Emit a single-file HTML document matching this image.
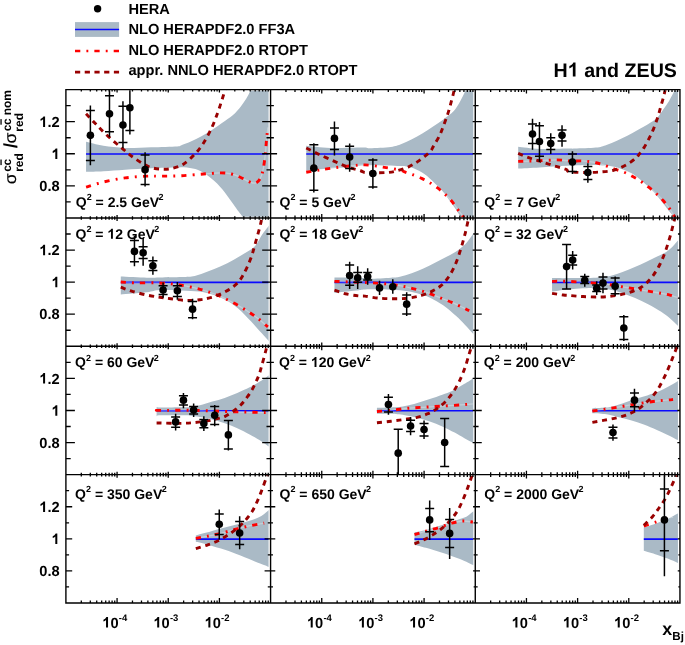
<!DOCTYPE html>
<html><head><meta charset="utf-8"><title>H1 and ZEUS</title>
<style>html,body{margin:0;padding:0;background:#fff}body{width:685px;height:645px;overflow:hidden;font-family:"Liberation Sans",sans-serif}</style></head>
<body>
<svg width="685" height="645" viewBox="0 0 685 645" style="display:block" font-family="'Liberation Sans', sans-serif" font-weight="bold" fill="#000" text-rendering="geometricPrecision">
<rect width="685" height="645" fill="#fff"/>
<g opacity="0.999">
<defs>
<clipPath id="c00"><rect x="66.50" y="90.20" width="203.48" height="127.15"/></clipPath>
<clipPath id="b00"><rect x="66.50" y="90.70" width="202.08" height="126.15"/></clipPath>
<clipPath id="c01"><rect x="271.18" y="90.20" width="203.48" height="127.15"/></clipPath>
<clipPath id="b01"><rect x="271.18" y="90.70" width="202.08" height="126.15"/></clipPath>
<clipPath id="c02"><rect x="475.87" y="90.20" width="203.48" height="127.15"/></clipPath>
<clipPath id="b02"><rect x="475.87" y="90.70" width="202.08" height="126.15"/></clipPath>
<clipPath id="c10"><rect x="66.50" y="218.55" width="203.48" height="127.15"/></clipPath>
<clipPath id="b10"><rect x="66.50" y="219.05" width="202.08" height="126.15"/></clipPath>
<clipPath id="c11"><rect x="271.18" y="218.55" width="203.48" height="127.15"/></clipPath>
<clipPath id="b11"><rect x="271.18" y="219.05" width="202.08" height="126.15"/></clipPath>
<clipPath id="c12"><rect x="475.87" y="218.55" width="203.48" height="127.15"/></clipPath>
<clipPath id="b12"><rect x="475.87" y="219.05" width="202.08" height="126.15"/></clipPath>
<clipPath id="c20"><rect x="66.50" y="346.90" width="203.48" height="127.15"/></clipPath>
<clipPath id="b20"><rect x="66.50" y="347.40" width="202.08" height="126.15"/></clipPath>
<clipPath id="c21"><rect x="271.18" y="346.90" width="203.48" height="127.15"/></clipPath>
<clipPath id="b21"><rect x="271.18" y="347.40" width="202.08" height="126.15"/></clipPath>
<clipPath id="c22"><rect x="475.87" y="346.90" width="203.48" height="127.15"/></clipPath>
<clipPath id="b22"><rect x="475.87" y="347.40" width="202.08" height="126.15"/></clipPath>
<clipPath id="c30"><rect x="66.50" y="475.25" width="203.48" height="127.15"/></clipPath>
<clipPath id="b30"><rect x="66.50" y="475.75" width="202.08" height="126.15"/></clipPath>
<clipPath id="c31"><rect x="271.18" y="475.25" width="203.48" height="127.15"/></clipPath>
<clipPath id="b31"><rect x="271.18" y="475.75" width="202.08" height="126.15"/></clipPath>
<clipPath id="c32"><rect x="475.87" y="475.25" width="203.48" height="127.15"/></clipPath>
<clipPath id="b32"><rect x="475.87" y="475.75" width="202.08" height="126.15"/></clipPath>
</defs>
<g clip-path="url(#b00)"><path d="M86.05 141.87 C88.94 142.52 96.90 144.76 103.41 145.78 C109.92 146.79 117.16 147.69 125.12 147.95 C133.08 148.20 142.48 147.55 151.17 147.30 C159.85 147.04 172.34 146.70 177.21 146.43 C182.09 146.16 178.14 146.48 180.40 145.67 C182.67 144.85 187.31 143.10 190.82 141.54 C194.33 139.99 197.95 138.25 201.46 136.33 C204.97 134.42 208.40 132.30 211.88 130.04 C215.35 127.78 218.82 125.23 222.30 122.77 C225.77 120.31 229.57 118.08 232.72 115.28 C235.86 112.48 238.72 109.08 241.18 105.95 C243.64 102.82 245.92 99.13 247.48 96.50 C249.03 93.88 249.75 91.95 250.51 90.21 C251.27 88.47 251.78 86.77 252.03 86.09 L252.03 49.60 L275.58 49.60 L275.58 257.95 L245.09 257.95 L245.09 220.66 C244.65 219.99 243.53 218.11 242.48 216.65 C241.43 215.18 240.31 213.93 238.79 211.87 C237.27 209.81 235.18 206.81 233.37 204.28 C231.56 201.74 229.75 199.12 227.94 196.68 C226.13 194.24 224.32 191.81 222.51 189.62 C220.70 187.43 218.90 185.35 217.09 183.55 C215.28 181.74 213.47 180.29 211.66 178.77 C209.85 177.25 208.04 175.70 206.23 174.43 C204.43 173.16 202.62 172.08 200.81 171.17 C199.00 170.27 197.19 169.55 195.38 169.00 C193.57 168.46 191.87 168.21 189.95 167.92 C188.04 167.63 186.00 167.34 183.88 167.27 C181.75 167.19 182.66 167.34 177.21 167.48 C171.76 167.63 159.85 167.77 151.17 168.13 C142.48 168.50 133.08 169.15 125.12 169.65 C117.16 170.16 109.92 170.81 103.41 171.17 C96.90 171.53 88.94 171.72 86.05 171.82 Z" fill="#aabac6"/></g>
<g clip-path="url(#c00)" fill="none">
<line x1="86.05" y1="154.02" x2="268.38" y2="154.02" stroke="#0a0aff" stroke-width="1.7"/>
<path d="M86.05 187.02 C88.94 186.19 96.90 183.55 103.41 182.03 C109.92 180.51 117.88 178.88 125.12 177.90 C132.35 176.93 140.65 176.46 146.82 176.17 C153.00 175.88 156.36 176.24 162.17 176.17 C167.98 176.09 174.83 176.09 181.71 175.73 C188.58 175.37 196.90 174.47 203.41 174.00 C209.92 173.52 216.07 172.91 220.78 172.91 C225.48 172.91 228.37 173.27 231.63 174.00 C234.89 174.72 237.42 175.98 240.31 177.25 C243.21 178.52 246.46 180.62 249.00 181.59 C251.53 182.57 253.63 183.65 255.51 183.11 C257.39 182.57 259.02 180.58 260.28 178.34 C261.55 176.09 262.27 173.63 263.10 169.65 C263.94 165.67 264.70 159.52 265.27 154.46 C265.85 149.39 266.14 143.79 266.58 139.27 C267.01 134.74 267.66 129.32 267.88 127.33" stroke="#fff" stroke-width="1.3" opacity="0.3"/>
<path d="M86.05 187.02 C88.94 186.19 96.90 183.55 103.41 182.03 C109.92 180.51 117.88 178.88 125.12 177.90 C132.35 176.93 140.65 176.46 146.82 176.17 C153.00 175.88 156.36 176.24 162.17 176.17 C167.98 176.09 174.83 176.09 181.71 175.73 C188.58 175.37 196.90 174.47 203.41 174.00 C209.92 173.52 216.07 172.91 220.78 172.91 C225.48 172.91 228.37 173.27 231.63 174.00 C234.89 174.72 237.42 175.98 240.31 177.25 C243.21 178.52 246.46 180.62 249.00 181.59 C251.53 182.57 253.63 183.65 255.51 183.11 C257.39 182.57 259.02 180.58 260.28 178.34 C261.55 176.09 262.27 173.63 263.10 169.65 C263.94 165.67 264.70 159.52 265.27 154.46 C265.85 149.39 266.14 143.79 266.58 139.27 C267.01 134.74 267.66 129.32 267.88 127.33" stroke="#ff0000" stroke-width="2.9" stroke-dasharray="5.2 6.1 1.9 6.1"/>
<path d="M86.05 113.87 C87.68 115.57 92.13 120.31 95.82 124.07 C99.51 127.83 103.67 132.28 108.19 136.44 C112.71 140.60 118.68 145.49 122.95 149.03 C127.22 152.58 130.11 155.07 133.80 157.72 C137.49 160.36 141.83 163.14 145.09 164.88 C148.34 166.61 150.15 167.41 153.34 168.13 C156.52 168.86 160.91 169.22 164.19 169.22 C167.47 169.22 169.81 168.97 173.02 168.13 C176.23 167.30 179.79 166.58 183.44 164.23 C187.10 161.88 191.62 157.53 194.95 154.03 C198.28 150.52 200.66 147.44 203.41 143.17 C206.16 138.90 209.09 133.40 211.44 128.41 C213.79 123.42 215.78 117.92 217.52 113.22 C219.26 108.51 220.67 103.88 221.86 100.19 C223.06 96.50 224.00 93.43 224.68 91.08 C225.37 88.73 225.77 86.92 225.99 86.09" stroke="#990000" stroke-width="2.9" stroke-dasharray="5.1 4.66"/>
<path d="M90.39 105.62V165.31 M85.89 110.40H94.89 M85.89 160.54H94.89" stroke="#000" stroke-width="1.5"/>
<circle cx="90.39" cy="135.36" r="3.8" fill="#000"/>
<path d="M109.49 80.66V137.09 M104.99 95.85H113.99 M104.99 131.67H113.99" stroke="#000" stroke-width="1.5"/>
<circle cx="109.49" cy="113.87" r="3.8" fill="#000"/>
<path d="M122.95 101.28V147.95 M118.45 106.27H127.45 M118.45 142.52H127.45" stroke="#000" stroke-width="1.5"/>
<circle cx="122.95" cy="124.94" r="3.8" fill="#000"/>
<path d="M129.89 76.32V134.49 M125.39 82.83H134.39 M125.39 130.58H134.39" stroke="#000" stroke-width="1.5"/>
<circle cx="129.89" cy="107.79" r="3.8" fill="#000"/>
<path d="M145.09 152.29V186.58 M140.59 154.89H149.59 M140.59 184.41H149.59" stroke="#000" stroke-width="1.5"/>
<circle cx="145.09" cy="169.65" r="3.8" fill="#000"/>
</g>
<g clip-path="url(#b01)"><path d="M306.24 145.78 C310.22 146.14 320.71 147.66 330.12 147.95 C339.52 148.24 356.03 147.48 362.68 147.51 C369.32 147.55 365.30 148.26 369.99 148.16 C374.68 148.07 385.58 147.66 390.83 146.97 C396.08 146.28 397.96 145.32 401.47 144.04 C404.98 142.76 408.41 141.00 411.89 139.27 C415.36 137.53 418.83 135.72 422.30 133.62 C425.78 131.52 429.21 129.05 432.72 126.68 C436.23 124.31 439.85 122.01 443.36 119.40 C446.87 116.80 450.99 114.01 453.78 111.05 C456.56 108.08 458.16 104.93 460.07 101.61 C461.99 98.28 464.12 93.66 465.28 91.08 C466.44 88.49 466.73 86.92 467.02 86.09 L467.02 49.60 L480.27 49.60 L480.27 257.95 L463.11 257.95 L463.11 220.66 C462.71 219.99 461.48 217.84 460.72 216.65 C459.96 215.45 459.64 215.11 458.55 213.50 C457.47 211.89 455.84 209.34 454.21 206.99 C452.58 204.64 450.59 201.85 448.79 199.39 C446.98 196.93 445.17 194.40 443.36 192.23 C441.55 190.06 439.74 188.25 437.93 186.37 C436.12 184.49 434.31 182.68 432.51 180.94 C430.70 179.20 428.89 177.41 427.08 175.95 C425.27 174.48 423.46 173.24 421.65 172.15 C419.84 171.06 418.04 170.23 416.23 169.44 C414.42 168.64 412.61 167.90 410.80 167.37 C408.99 166.85 407.18 166.51 405.37 166.29 C403.56 166.07 403.06 166.20 399.95 166.07 C396.84 165.95 392.53 165.66 386.71 165.53 C380.88 165.40 370.81 165.06 365.00 165.31 C359.19 165.57 357.64 166.51 351.82 167.05 C346.01 167.59 337.72 167.95 330.12 168.57 C322.52 169.18 310.22 170.38 306.24 170.74 Z" fill="#aabac6"/></g>
<g clip-path="url(#c01)" fill="none">
<line x1="306.24" y1="154.02" x2="473.07" y2="154.02" stroke="#0a0aff" stroke-width="1.7"/>
<path d="M306.24 172.26 C308.41 171.90 314.56 170.85 319.27 170.09 C323.97 169.33 329.03 168.42 334.46 167.70 C339.89 166.98 346.76 166.22 351.82 165.75 C356.89 165.28 359.76 164.66 364.85 164.88 C369.94 165.10 376.52 166.18 382.36 167.05 C388.21 167.92 396.11 169.24 399.95 170.09 C403.78 170.94 403.28 171.39 405.37 172.15 C407.47 172.91 409.82 173.62 412.54 174.65 C415.25 175.68 418.79 177.02 421.65 178.34 C424.51 179.66 426.97 180.92 429.68 182.57 C432.40 184.21 435.36 186.26 437.93 188.21 C440.50 190.17 442.82 192.16 445.10 194.29 C447.37 196.42 449.55 198.56 451.61 201.02 C453.67 203.48 455.66 206.61 457.47 209.05 C459.28 211.49 461.16 213.84 462.46 215.67 C463.76 217.50 464.81 219.29 465.28 220.01" stroke="#fff" stroke-width="1.3" opacity="0.3"/>
<path d="M306.24 172.26 C308.41 171.90 314.56 170.85 319.27 170.09 C323.97 169.33 329.03 168.42 334.46 167.70 C339.89 166.98 346.76 166.22 351.82 165.75 C356.89 165.28 359.76 164.66 364.85 164.88 C369.94 165.10 376.52 166.18 382.36 167.05 C388.21 167.92 396.11 169.24 399.95 170.09 C403.78 170.94 403.28 171.39 405.37 172.15 C407.47 172.91 409.82 173.62 412.54 174.65 C415.25 175.68 418.79 177.02 421.65 178.34 C424.51 179.66 426.97 180.92 429.68 182.57 C432.40 184.21 435.36 186.26 437.93 188.21 C440.50 190.17 442.82 192.16 445.10 194.29 C447.37 196.42 449.55 198.56 451.61 201.02 C453.67 203.48 455.66 206.61 457.47 209.05 C459.28 211.49 461.16 213.84 462.46 215.67 C463.76 217.50 464.81 219.29 465.28 220.01" stroke="#ff0000" stroke-width="2.9" stroke-dasharray="5.2 6.1 1.9 6.1"/>
<path d="M306.24 147.95 C308.41 149.03 314.56 152.22 319.27 154.46 C323.97 156.70 329.76 159.31 334.46 161.41 C339.16 163.50 343.14 165.49 347.48 167.05 C351.82 168.60 357.59 169.83 360.51 170.74 C363.43 171.64 362.37 172.13 365.00 172.48 C367.63 172.82 372.31 172.82 376.29 172.80 C380.27 172.78 385.40 172.71 388.88 172.37 C392.35 172.02 393.83 171.66 397.13 170.74 C400.42 169.82 405.26 168.32 408.63 166.83 C411.99 165.35 414.67 163.56 417.31 161.84 C419.95 160.12 422.74 157.86 424.47 156.52 C426.21 155.18 426.65 154.80 427.73 153.81 C428.82 152.81 430.01 151.85 430.99 150.55 C431.96 149.25 432.14 148.53 433.59 145.99 C435.04 143.46 437.97 138.87 439.67 135.36 C441.37 131.85 442.45 128.48 443.79 124.94 C445.13 121.39 446.54 117.63 447.70 114.09 C448.86 110.54 449.78 107.14 450.74 103.67 C451.70 100.19 452.76 96.07 453.45 93.25 C454.14 90.43 454.63 87.82 454.86 86.74" stroke="#990000" stroke-width="2.9" stroke-dasharray="5.1 4.66"/>
<path d="M313.84 143.17V192.45 M309.34 144.69H318.34 M309.34 190.27H318.34" stroke="#000" stroke-width="1.5"/>
<circle cx="313.84" cy="168.13" r="3.8" fill="#000"/>
<path d="M334.46 121.47V155.54 M329.96 127.98H338.96 M329.96 149.47H338.96" stroke="#000" stroke-width="1.5"/>
<circle cx="334.46" cy="138.40" r="3.8" fill="#000"/>
<path d="M349.65 143.61V171.82 M345.15 146.21H354.15 M345.15 168.57H354.15" stroke="#000" stroke-width="1.5"/>
<circle cx="349.65" cy="157.06" r="3.8" fill="#000"/>
<path d="M372.88 158.37V188.76 M368.38 159.89H377.38 M368.38 187.02H377.38" stroke="#000" stroke-width="1.5"/>
<circle cx="372.88" cy="173.56" r="3.8" fill="#000"/>
</g>
<g clip-path="url(#b02)"><path d="M518.19 146.86 C521.73 147.22 531.21 148.74 539.46 149.03 C547.71 149.32 561.76 148.67 567.68 148.60 C573.60 148.53 570.30 148.76 574.99 148.60 C579.68 148.44 590.58 148.24 595.83 147.62 C601.08 147.01 602.96 146.07 606.47 144.91 C609.98 143.75 613.41 142.21 616.89 140.68 C620.36 139.14 623.83 137.47 627.30 135.68 C630.78 133.89 634.21 131.87 637.72 129.93 C641.23 128.00 645.21 126.01 648.36 124.07 C651.51 122.14 654.18 120.67 656.61 118.32 C659.03 115.97 660.80 112.91 662.90 109.96 C665.00 107.01 667.28 103.78 669.20 100.63 C671.11 97.48 673.14 93.50 674.41 91.08 C675.67 88.65 676.40 86.92 676.79 86.09 L676.79 49.60 L684.95 49.60 L684.95 257.95 L676.36 257.95 L676.36 220.66 C675.89 219.99 674.66 218.11 673.54 216.65 C672.42 215.18 671.19 213.84 669.63 211.87 C668.08 209.90 666.01 207.17 664.20 204.82 C662.40 202.47 660.59 199.93 658.78 197.76 C656.97 195.59 655.16 193.69 653.35 191.79 C651.54 189.89 649.73 188.09 647.92 186.37 C646.12 184.65 644.31 183.04 642.50 181.48 C640.69 179.93 638.88 178.39 637.07 177.03 C635.26 175.68 633.45 174.41 631.65 173.34 C629.84 172.28 628.03 171.41 626.22 170.63 C624.41 169.85 622.60 169.27 620.79 168.68 C618.98 168.08 617.17 167.48 615.37 167.05 C613.56 166.61 612.07 166.33 609.94 166.07 C607.80 165.82 605.60 165.69 602.56 165.53 C599.52 165.37 597.52 165.06 591.71 165.10 C585.89 165.13 576.39 165.35 567.68 165.75 C558.97 166.14 547.71 167.01 539.46 167.48 C531.21 167.95 521.73 168.39 518.19 168.57 Z" fill="#aabac6"/></g>
<g clip-path="url(#c02)" fill="none">
<line x1="518.19" y1="154.02" x2="677.75" y2="154.02" stroke="#0a0aff" stroke-width="1.7"/>
<path d="M518.19 161.41 C521.01 161.33 528.68 161.22 535.12 160.97 C541.56 160.72 551.01 159.89 556.82 159.89 C562.64 159.89 565.63 160.79 570.00 160.97 C574.37 161.15 578.68 160.68 583.02 160.97 C587.36 161.26 592.25 161.91 596.05 162.71 C599.85 163.50 602.78 164.70 605.82 165.75 C608.85 166.80 611.24 167.94 614.28 169.00 C617.32 170.07 620.97 170.88 624.05 172.15 C627.12 173.42 629.84 175.01 632.73 176.60 C635.62 178.19 638.70 179.89 641.41 181.70 C644.13 183.51 646.48 185.41 649.01 187.45 C651.54 189.50 654.26 191.79 656.61 193.96 C658.96 196.14 661.02 198.12 663.12 200.48 C665.22 202.83 667.39 205.54 669.20 208.07 C671.01 210.61 672.78 213.75 673.97 215.67 C675.17 217.59 675.96 218.93 676.36 219.58" stroke="#fff" stroke-width="1.3" opacity="0.3"/>
<path d="M518.19 161.41 C521.01 161.33 528.68 161.22 535.12 160.97 C541.56 160.72 551.01 159.89 556.82 159.89 C562.64 159.89 565.63 160.79 570.00 160.97 C574.37 161.15 578.68 160.68 583.02 160.97 C587.36 161.26 592.25 161.91 596.05 162.71 C599.85 163.50 602.78 164.70 605.82 165.75 C608.85 166.80 611.24 167.94 614.28 169.00 C617.32 170.07 620.97 170.88 624.05 172.15 C627.12 173.42 629.84 175.01 632.73 176.60 C635.62 178.19 638.70 179.89 641.41 181.70 C644.13 183.51 646.48 185.41 649.01 187.45 C651.54 189.50 654.26 191.79 656.61 193.96 C658.96 196.14 661.02 198.12 663.12 200.48 C665.22 202.83 667.39 205.54 669.20 208.07 C671.01 210.61 672.78 213.75 673.97 215.67 C675.17 217.59 675.96 218.93 676.36 219.58" stroke="#ff0000" stroke-width="2.9" stroke-dasharray="5.2 6.1 1.9 6.1"/>
<path d="M518.19 153.37 C519.92 154.10 525.06 156.45 528.61 157.72 C532.15 158.98 535.48 159.71 539.46 160.97 C543.44 162.24 548.14 163.94 552.48 165.31 C556.82 166.69 562.59 168.13 565.51 169.22 C568.43 170.30 566.36 171.28 570.00 171.82 C573.64 172.37 581.94 172.48 587.36 172.48 C592.79 172.48 598.33 172.15 602.56 171.82 C606.79 171.50 609.69 171.25 612.76 170.52 C615.84 169.80 618.22 168.75 621.01 167.48 C623.79 166.22 627.01 164.48 629.47 162.92 C631.93 161.37 634.11 159.65 635.77 158.15 C637.43 156.65 638.08 155.67 639.46 153.92 C640.83 152.16 642.39 150.24 644.02 147.62 C645.65 145.00 647.64 141.31 649.23 138.18 C650.82 135.05 652.16 132.32 653.57 128.85 C654.98 125.37 656.50 121.03 657.69 117.34 C658.89 113.65 659.68 110.40 660.73 106.71 C661.78 103.02 663.16 98.53 663.99 95.20 C664.82 91.87 665.43 88.15 665.72 86.74" stroke="#990000" stroke-width="2.9" stroke-dasharray="5.1 4.66"/>
<path d="M532.51 118.64V149.68 M528.01 124.07H537.01 M528.01 143.61H537.01" stroke="#000" stroke-width="1.5"/>
<circle cx="532.51" cy="134.06" r="3.8" fill="#000"/>
<path d="M539.46 121.90V162.06 M534.96 125.81H543.96 M534.96 156.20H543.96" stroke="#000" stroke-width="1.5"/>
<circle cx="539.46" cy="141.44" r="3.8" fill="#000"/>
<path d="M550.75 133.19V154.03 M546.25 137.75H555.25 M546.25 149.47H555.25" stroke="#000" stroke-width="1.5"/>
<circle cx="550.75" cy="143.61" r="3.8" fill="#000"/>
<path d="M562.03 125.16V146.86 M557.53 129.93H566.53 M557.53 141.00H566.53" stroke="#000" stroke-width="1.5"/>
<circle cx="562.03" cy="135.36" r="3.8" fill="#000"/>
<path d="M572.45 151.20V174.00 M567.95 154.03H576.95 M567.95 171.39H576.95" stroke="#000" stroke-width="1.5"/>
<circle cx="572.45" cy="162.06" r="3.8" fill="#000"/>
<path d="M587.86 163.14V182.68 M583.36 166.40H592.36 M583.36 179.42H592.36" stroke="#000" stroke-width="1.5"/>
<circle cx="587.86" cy="172.48" r="3.8" fill="#000"/>
</g>
<g clip-path="url(#b10)"><path d="M120.78 276.60 C125.12 276.78 140.29 277.54 146.82 277.68 C153.36 277.83 154.19 277.58 160.00 277.47 C165.81 277.36 175.92 277.29 181.71 277.03 C187.49 276.78 190.39 276.85 194.73 275.95 C199.07 275.04 203.41 273.23 207.75 271.61 C212.09 269.98 216.44 268.17 220.78 266.18 C225.12 264.19 229.46 262.02 233.80 259.67 C238.14 257.32 243.21 254.42 246.82 252.07 C250.44 249.72 252.97 248.45 255.51 245.56 C258.04 242.67 259.96 237.78 262.02 234.71 C264.08 231.63 266.43 229.10 267.88 227.11 C269.33 225.12 270.23 223.49 270.70 222.77 L270.70 343.24 C270.23 342.69 269.69 341.97 267.88 339.98 C266.07 337.99 262.63 334.37 259.85 331.30 C257.06 328.22 254.78 325.33 251.17 321.53 C247.55 317.73 242.48 312.12 238.14 308.51 C233.80 304.89 229.46 302.18 225.12 299.82 C220.78 297.47 216.44 295.77 212.09 294.40 C207.75 293.02 204.14 292.23 199.07 291.58 C194.01 290.92 188.22 290.74 181.71 290.49 C175.19 290.24 165.81 289.77 160.00 290.06 C154.19 290.35 153.36 291.50 146.82 292.23 C140.29 292.95 125.12 294.04 120.78 294.40 Z" fill="#aabac6"/></g>
<g clip-path="url(#c10)" fill="none">
<line x1="120.78" y1="282.38" x2="268.38" y2="282.38" stroke="#0a0aff" stroke-width="1.7"/>
<path d="M120.78 282.03 C123.31 282.17 129.82 282.75 135.97 282.89 C142.12 283.04 150.78 282.60 157.68 282.89 C164.58 283.18 171.19 283.80 177.36 284.63 C183.54 285.46 189.67 286.73 194.73 287.89 C199.79 289.04 203.41 290.13 207.75 291.58 C212.09 293.02 216.44 294.65 220.78 296.57 C225.12 298.49 229.46 300.73 233.80 303.08 C238.14 305.43 242.84 308.15 246.82 310.68 C250.80 313.21 254.17 315.56 257.68 318.27 C261.19 320.99 266.18 325.51 267.88 326.96" stroke="#fff" stroke-width="1.3" opacity="0.3"/>
<path d="M120.78 282.03 C123.31 282.17 129.82 282.75 135.97 282.89 C142.12 283.04 150.78 282.60 157.68 282.89 C164.58 283.18 171.19 283.80 177.36 284.63 C183.54 285.46 189.67 286.73 194.73 287.89 C199.79 289.04 203.41 290.13 207.75 291.58 C212.09 293.02 216.44 294.65 220.78 296.57 C225.12 298.49 229.46 300.73 233.80 303.08 C238.14 305.43 242.84 308.15 246.82 310.68 C250.80 313.21 254.17 315.56 257.68 318.27 C261.19 320.99 266.18 325.51 267.88 326.96" stroke="#ff0000" stroke-width="2.9" stroke-dasharray="5.2 6.1 1.9 6.1"/>
<path d="M120.78 287.23 C122.59 287.89 127.29 289.84 131.63 291.14 C135.97 292.44 142.12 294.04 146.82 295.05 C151.53 296.06 155.84 296.60 159.85 297.22 C163.85 297.83 166.49 298.20 170.85 298.74 C175.22 299.28 181.20 300.31 186.05 300.48 C190.90 300.64 196.18 300.11 199.94 299.72 C203.70 299.32 205.91 298.72 208.62 298.09 C211.33 297.45 213.58 296.91 216.22 295.92 C218.86 294.92 221.86 293.48 224.47 292.12 C227.07 290.76 229.50 289.50 231.85 287.78 C234.20 286.06 236.77 283.82 238.58 281.81 C240.38 279.80 241.29 278.15 242.70 275.73 C244.11 273.31 245.59 270.41 247.04 267.27 C248.49 264.12 250.15 260.32 251.38 256.85 C252.61 253.37 253.37 250.08 254.42 246.43 C255.47 242.77 256.63 238.76 257.68 234.92 C258.73 231.09 259.92 226.78 260.72 223.42 C261.51 220.05 262.16 216.18 262.45 214.74" stroke="#990000" stroke-width="2.9" stroke-dasharray="5.1 4.66"/>
<path d="M134.45 235.79V266.18 M129.95 240.57H138.95 M129.95 261.84H138.95" stroke="#000" stroke-width="1.5"/>
<circle cx="134.45" cy="251.42" r="3.8" fill="#000"/>
<path d="M143.13 237.96V265.75 M138.63 246.64H147.63 M138.63 258.58H147.63" stroke="#000" stroke-width="1.5"/>
<circle cx="143.13" cy="252.72" r="3.8" fill="#000"/>
<path d="M152.90 256.41V274.86 M148.40 260.75H157.40 M148.40 270.52H157.40" stroke="#000" stroke-width="1.5"/>
<circle cx="152.90" cy="265.75" r="3.8" fill="#000"/>
<path d="M163.10 282.46V297.65 M158.60 285.72H167.60 M158.60 294.40H167.60" stroke="#000" stroke-width="1.5"/>
<circle cx="163.10" cy="290.06" r="3.8" fill="#000"/>
<path d="M177.36 282.03V299.82 M172.86 285.72H181.86 M172.86 296.57H181.86" stroke="#000" stroke-width="1.5"/>
<circle cx="177.36" cy="290.71" r="3.8" fill="#000"/>
<path d="M192.56 298.74V319.36 M188.06 301.56H197.06 M188.06 317.84H197.06" stroke="#000" stroke-width="1.5"/>
<circle cx="192.56" cy="309.16" r="3.8" fill="#000"/>
</g>
<g clip-path="url(#b11)"><path d="M334.46 277.47 C339.16 277.54 356.76 277.68 362.68 277.90 C368.60 278.12 365.30 278.81 369.99 278.77 C374.68 278.73 385.84 278.03 390.83 277.68 C395.82 277.34 396.47 277.45 399.95 276.71 C403.42 275.97 407.76 274.59 411.67 273.23 C415.58 271.88 419.50 270.32 423.39 268.57 C427.28 266.81 431.13 264.66 435.00 262.71 C438.87 260.75 442.73 258.98 446.61 256.85 C450.50 254.71 455.21 252.03 458.34 249.90 C461.47 247.77 463.44 245.99 465.39 244.04 C467.34 242.09 468.79 239.84 470.06 238.18 C471.32 236.51 472.05 235.43 472.99 234.05 C473.93 232.68 475.25 230.62 475.70 229.93 L475.70 336.72 C475.23 336.18 474.69 335.46 472.88 333.47 C471.07 331.48 467.63 327.68 464.85 324.79 C462.06 321.89 459.78 319.36 456.17 316.10 C452.55 312.85 447.48 308.33 443.14 305.25 C438.80 302.18 434.46 299.64 430.12 297.65 C425.78 295.66 421.44 294.47 417.09 293.31 C412.75 292.15 409.14 291.36 404.07 290.71 C399.01 290.06 393.22 289.62 386.71 289.41 C380.19 289.19 370.09 289.22 365.00 289.41 C359.91 289.59 361.26 289.91 356.17 290.49 C351.08 291.07 338.08 292.48 334.46 292.88 Z" fill="#aabac6"/></g>
<g clip-path="url(#c11)" fill="none">
<line x1="334.46" y1="282.38" x2="473.07" y2="282.38" stroke="#0a0aff" stroke-width="1.7"/>
<path d="M334.46 281.37 C337.35 281.48 346.73 281.84 351.82 282.03 C356.91 282.21 359.91 282.21 365.00 282.46 C370.09 282.71 376.58 283.00 382.36 283.54 C388.15 284.09 394.67 284.88 399.73 285.72 C404.79 286.55 408.41 287.45 412.75 288.54 C417.09 289.62 421.44 290.78 425.78 292.23 C430.12 293.67 434.46 295.52 438.80 297.22 C443.14 298.92 447.84 300.73 451.82 302.43 C455.80 304.13 459.78 306.05 462.68 307.42 C465.57 308.80 468.10 310.13 469.19 310.68" stroke="#fff" stroke-width="1.3" opacity="0.3"/>
<path d="M334.46 281.37 C337.35 281.48 346.73 281.84 351.82 282.03 C356.91 282.21 359.91 282.21 365.00 282.46 C370.09 282.71 376.58 283.00 382.36 283.54 C388.15 284.09 394.67 284.88 399.73 285.72 C404.79 286.55 408.41 287.45 412.75 288.54 C417.09 289.62 421.44 290.78 425.78 292.23 C430.12 293.67 434.46 295.52 438.80 297.22 C443.14 298.92 447.84 300.73 451.82 302.43 C455.80 304.13 459.78 306.05 462.68 307.42 C465.57 308.80 468.10 310.13 469.19 310.68" stroke="#ff0000" stroke-width="2.9" stroke-dasharray="5.2 6.1 1.9 6.1"/>
<path d="M334.46 290.06 C336.27 290.67 341.33 292.77 345.31 293.75 C349.29 294.72 355.05 295.52 358.34 295.92 C361.62 296.32 361.72 295.77 365.00 296.13 C368.28 296.50 373.32 297.65 378.02 298.09 C382.73 298.52 388.15 298.74 393.22 298.74 C398.28 298.74 403.71 298.63 408.41 298.09 C413.12 297.55 417.46 296.64 421.44 295.48 C425.42 294.33 429.03 292.77 432.29 291.14 C435.54 289.51 438.26 288.07 440.97 285.72 C443.68 283.36 446.22 280.47 448.57 277.03 C450.92 273.60 453.09 269.62 455.08 265.09 C457.07 260.57 458.88 254.97 460.51 249.90 C462.13 244.84 463.58 239.59 464.85 234.71 C466.11 229.82 467.34 224.03 468.10 220.60 C468.86 217.16 469.19 215.17 469.41 214.09" stroke="#990000" stroke-width="2.9" stroke-dasharray="5.1 4.66"/>
<path d="M349.65 261.84V288.97 M345.15 265.09H354.15 M345.15 285.28H354.15" stroke="#000" stroke-width="1.5"/>
<circle cx="349.65" cy="275.51" r="3.8" fill="#000"/>
<path d="M357.69 266.18V288.97 M353.19 272.47H362.19 M353.19 282.24H362.19" stroke="#000" stroke-width="1.5"/>
<circle cx="357.69" cy="277.68" r="3.8" fill="#000"/>
<path d="M367.67 268.35V284.63 M363.17 272.47H372.17 M363.17 280.07H372.17" stroke="#000" stroke-width="1.5"/>
<circle cx="367.67" cy="276.60" r="3.8" fill="#000"/>
<path d="M379.54 280.72V295.05" stroke="#000" stroke-width="1.5"/>
<circle cx="379.54" cy="287.89" r="3.8" fill="#000"/>
<path d="M392.78 279.20V293.75" stroke="#000" stroke-width="1.5"/>
<circle cx="392.78" cy="286.80" r="3.8" fill="#000"/>
<path d="M406.68 292.23V316.10 M402.18 295.05H411.18 M402.18 313.93H411.18" stroke="#000" stroke-width="1.5"/>
<circle cx="406.68" cy="304.17" r="3.8" fill="#000"/>
</g>
<g clip-path="url(#b12)"><path d="M552.05 278.12 C555.02 278.12 562.52 278.19 569.85 278.12 C577.18 278.05 590.23 277.94 596.05 277.68 C601.86 277.43 602.07 276.96 604.73 276.60 C607.39 276.24 609.03 276.27 612.00 275.51 C614.97 274.75 618.82 273.40 622.53 272.04 C626.24 270.68 630.34 269.04 634.25 267.37 C638.16 265.71 642.06 263.90 645.97 262.06 C649.88 260.21 654.40 257.95 657.69 256.30 C660.98 254.66 663.23 253.83 665.72 252.18 C668.22 250.53 670.72 248.27 672.67 246.43 C674.62 244.58 676.11 242.63 677.45 241.11 C678.78 239.59 680.16 237.94 680.70 237.31 L680.70 328.69 C680.23 328.22 679.69 327.61 677.88 325.87 C676.07 324.14 672.63 320.63 669.85 318.27 C667.06 315.92 664.78 314.11 661.17 311.76 C657.55 309.41 652.48 306.44 648.14 304.17 C643.80 301.89 639.46 299.97 635.12 298.09 C630.78 296.21 626.44 294.33 622.09 292.88 C617.75 291.43 614.14 290.24 609.07 289.41 C604.01 288.57 598.61 287.89 591.71 287.89 C584.81 287.89 574.29 288.79 567.68 289.41 C561.07 290.02 554.65 291.21 552.05 291.58 Z" fill="#aabac6"/></g>
<g clip-path="url(#c12)" fill="none">
<line x1="552.05" y1="282.38" x2="677.75" y2="282.38" stroke="#0a0aff" stroke-width="1.7"/>
<path d="M552.05 281.37 C554.65 281.37 561.07 281.12 567.68 281.37 C574.29 281.63 584.81 282.35 591.71 282.89 C598.61 283.44 604.01 283.98 609.07 284.63 C614.14 285.28 617.75 286.08 622.09 286.80 C626.44 287.52 630.78 288.25 635.12 288.97 C639.46 289.69 643.80 290.42 648.14 291.14 C652.48 291.87 657.55 292.66 661.17 293.31 C664.78 293.96 667.06 294.33 669.85 295.05 C672.63 295.77 676.54 297.22 677.88 297.65" stroke="#fff" stroke-width="1.3" opacity="0.3"/>
<path d="M552.05 281.37 C554.65 281.37 561.07 281.12 567.68 281.37 C574.29 281.63 584.81 282.35 591.71 282.89 C598.61 283.44 604.01 283.98 609.07 284.63 C614.14 285.28 617.75 286.08 622.09 286.80 C626.44 287.52 630.78 288.25 635.12 288.97 C639.46 289.69 643.80 290.42 648.14 291.14 C652.48 291.87 657.55 292.66 661.17 293.31 C664.78 293.96 667.06 294.33 669.85 295.05 C672.63 295.77 676.54 297.22 677.88 297.65" stroke="#ff0000" stroke-width="2.9" stroke-dasharray="5.2 6.1 1.9 6.1"/>
<path d="M552.05 293.31 C553.93 293.60 560.34 294.69 563.34 295.05 C566.33 295.41 566.72 295.23 570.00 295.48 C573.28 295.74 577.96 296.32 583.02 296.57 C588.09 296.82 595.32 297.11 600.39 297.00 C605.45 296.89 609.07 296.53 613.41 295.92 C617.75 295.30 622.46 294.40 626.44 293.31 C630.42 292.23 634.03 291.03 637.29 289.41 C640.54 287.78 643.26 285.97 645.97 283.54 C648.68 281.12 651.22 278.12 653.57 274.86 C655.92 271.61 658.09 267.99 660.08 264.01 C662.07 260.03 663.81 255.69 665.51 250.99 C667.21 246.28 668.84 240.86 670.28 235.79 C671.73 230.73 673.28 224.21 674.19 220.60 C675.09 216.98 675.46 215.17 675.71 214.09" stroke="#990000" stroke-width="2.9" stroke-dasharray="5.1 4.66"/>
<path d="M566.59 244.04V289.41 M562.09 244.47H571.09 M562.09 288.97H571.09" stroke="#000" stroke-width="1.5"/>
<circle cx="566.59" cy="266.61" r="3.8" fill="#000"/>
<path d="M572.67 250.99V269.44 M568.17 255.33H577.17 M568.17 265.09H577.17" stroke="#000" stroke-width="1.5"/>
<circle cx="572.67" cy="260.10" r="3.8" fill="#000"/>
<path d="M584.76 273.78V286.80 M580.26 276.60H589.26 M580.26 283.54H589.26" stroke="#000" stroke-width="1.5"/>
<circle cx="584.76" cy="280.29" r="3.8" fill="#000"/>
<path d="M596.70 281.37V295.05 M592.20 285.06H601.20 M592.20 291.58H601.20" stroke="#000" stroke-width="1.5"/>
<circle cx="596.70" cy="288.32" r="3.8" fill="#000"/>
<path d="M602.99 272.69V293.31 M598.49 277.03H607.49 M598.49 288.97H607.49" stroke="#000" stroke-width="1.5"/>
<circle cx="602.99" cy="283.11" r="3.8" fill="#000"/>
<path d="M615.15 276.60V295.92 M610.65 278.12H619.65 M610.65 293.75H619.65" stroke="#000" stroke-width="1.5"/>
<circle cx="615.15" cy="286.15" r="3.8" fill="#000"/>
<path d="M623.83 315.02V341.07 M619.33 316.76H628.33 M619.33 339.55H628.33" stroke="#000" stroke-width="1.5"/>
<circle cx="623.83" cy="328.04" r="3.8" fill="#000"/>
</g>
<g clip-path="url(#b20)"><path d="M156.59 407.12 C157.16 407.19 155.81 407.52 160.00 407.55 C164.19 407.59 176.64 407.44 181.71 407.34 C186.77 407.23 187.35 407.24 190.39 406.90 C193.43 406.56 196.29 406.16 199.94 405.27 C203.59 404.39 208.19 402.81 212.31 401.58 C216.44 400.35 220.52 399.34 224.68 397.89 C228.84 396.45 233.11 394.66 237.27 392.90 C241.43 391.15 245.96 389.21 249.65 387.37 C253.34 385.52 256.41 383.69 259.41 381.83 C262.42 379.97 265.78 377.51 267.66 376.19 C269.54 374.87 270.19 374.29 270.70 373.91 L270.70 447.71 C270.19 447.37 269.54 446.91 267.66 445.65 C265.78 444.38 262.42 441.97 259.41 440.11 C256.41 438.25 253.34 436.44 249.65 434.47 C245.96 432.50 241.43 430.14 237.27 428.28 C233.11 426.42 228.84 424.74 224.68 423.29 C220.52 421.84 216.44 420.63 212.31 419.60 C208.19 418.57 203.59 417.74 199.94 417.10 C196.29 416.47 193.43 416.09 190.39 415.80 C187.35 415.51 186.77 415.44 181.71 415.37 C176.64 415.29 164.19 415.19 160.00 415.37 C155.81 415.55 157.16 416.27 156.59 416.45 Z" fill="#aabac6"/></g>
<g clip-path="url(#c20)" fill="none">
<line x1="156.59" y1="410.73" x2="268.38" y2="410.73" stroke="#0a0aff" stroke-width="1.7"/>
<path d="M156.59 410.37 C157.16 410.37 154.01 410.37 160.00 410.37 C165.99 410.37 181.71 410.19 192.56 410.37 C203.41 410.56 216.07 411.17 225.12 411.46 C234.16 411.75 240.06 411.93 246.82 412.11 C253.59 412.29 262.56 412.47 265.71 412.54" stroke="#fff" stroke-width="1.3" opacity="0.3"/>
<path d="M156.59 410.37 C157.16 410.37 154.01 410.37 160.00 410.37 C165.99 410.37 181.71 410.19 192.56 410.37 C203.41 410.56 216.07 411.17 225.12 411.46 C234.16 411.75 240.06 411.93 246.82 412.11 C253.59 412.29 262.56 412.47 265.71 412.54" stroke="#ff0000" stroke-width="2.9" stroke-dasharray="5.2 6.1 1.9 6.1"/>
<path d="M156.59 422.96 C157.16 422.96 156.54 422.89 160.00 422.96 C163.46 423.04 171.94 423.43 177.36 423.40 C182.79 423.36 187.57 423.16 192.56 422.75 C197.55 422.33 203.38 421.53 207.32 420.90 C211.26 420.27 213.32 419.67 216.22 418.95 C219.11 418.22 221.79 417.90 224.68 416.56 C227.58 415.22 230.87 412.89 233.58 410.92 C236.30 408.95 238.72 407.01 240.96 404.73 C243.21 402.45 245.20 399.72 247.04 397.24 C248.89 394.76 250.59 392.34 252.03 389.86 C253.48 387.38 254.57 384.85 255.72 382.37 C256.88 379.90 258.00 377.67 258.98 374.99 C259.96 372.32 260.50 370.18 261.58 366.31 C262.67 362.44 264.48 355.64 265.49 351.77 C266.50 347.90 267.30 344.53 267.66 343.09" stroke="#990000" stroke-width="2.9" stroke-dasharray="5.1 4.66"/>
<path d="M175.63 413.63V430.56 M171.13 416.89H180.13 M171.13 427.30H180.13" stroke="#000" stroke-width="1.5"/>
<circle cx="175.63" cy="421.88" r="3.8" fill="#000"/>
<path d="M183.44 393.01V408.20 M178.94 395.83H187.94 M178.94 404.95H187.94" stroke="#000" stroke-width="1.5"/>
<circle cx="183.44" cy="400.17" r="3.8" fill="#000"/>
<path d="M193.64 403.43V416.89 M189.14 406.47H198.14 M189.14 414.06H198.14" stroke="#000" stroke-width="1.5"/>
<circle cx="193.64" cy="409.94" r="3.8" fill="#000"/>
<path d="M203.85 416.23V431.00 M199.35 419.49H208.35 M199.35 427.74H208.35" stroke="#000" stroke-width="1.5"/>
<circle cx="203.85" cy="423.40" r="3.8" fill="#000"/>
<path d="M214.70 404.95V426.22 M210.20 406.47H219.20 M210.20 424.48H219.20" stroke="#000" stroke-width="1.5"/>
<circle cx="214.70" cy="415.37" r="3.8" fill="#000"/>
<path d="M228.37 419.71V450.53 M223.87 420.58H232.87 M223.87 449.01H232.87" stroke="#000" stroke-width="1.5"/>
<circle cx="228.37" cy="434.90" r="3.8" fill="#000"/>
</g>
<g clip-path="url(#b21)"><path d="M376.94 407.77 C379.29 407.73 387.61 407.66 391.05 407.55 C394.48 407.44 395.24 407.37 397.56 407.12 C399.87 406.87 401.65 406.74 404.94 406.03 C408.23 405.33 413.17 404.04 417.31 402.89 C421.45 401.73 425.63 400.44 429.79 399.09 C433.95 397.73 438.57 396.08 442.27 394.75 C445.98 393.41 448.97 392.50 452.04 391.06 C455.12 389.61 458.23 387.51 460.72 386.06 C463.22 384.62 465.03 383.60 467.02 382.37 C469.01 381.14 471.22 379.62 472.66 378.68 C474.11 377.74 475.19 377.06 475.70 376.73 L475.70 444.02 C475.19 443.78 474.54 443.58 472.66 442.61 C470.78 441.63 467.42 439.82 464.41 438.16 C461.41 436.49 458.34 434.58 454.65 432.62 C450.96 430.67 446.42 428.30 442.27 426.44 C438.13 424.57 433.95 422.89 429.79 421.44 C425.63 420.00 421.45 418.79 417.31 417.75 C413.17 416.72 408.23 415.84 404.94 415.26 C401.65 414.68 399.87 414.52 397.56 414.28 C395.24 414.05 394.48 413.96 391.05 413.85 C387.61 413.74 379.29 413.67 376.94 413.63 Z" fill="#aabac6"/></g>
<g clip-path="url(#c21)" fill="none">
<line x1="376.94" y1="410.73" x2="473.07" y2="410.73" stroke="#0a0aff" stroke-width="1.7"/>
<path d="M376.94 411.46 C379.29 411.28 385.80 410.92 391.05 410.37 C396.29 409.83 402.62 408.75 408.41 408.20 C414.20 407.66 419.99 407.48 425.78 407.12 C431.57 406.76 437.35 406.39 443.14 406.03 C448.93 405.67 455.55 405.31 460.51 404.95 C465.46 404.59 470.82 404.04 472.88 403.86" stroke="#fff" stroke-width="1.3" opacity="0.3"/>
<path d="M376.94 411.46 C379.29 411.28 385.80 410.92 391.05 410.37 C396.29 409.83 402.62 408.75 408.41 408.20 C414.20 407.66 419.99 407.48 425.78 407.12 C431.57 406.76 437.35 406.39 443.14 406.03 C448.93 405.67 455.55 405.31 460.51 404.95 C465.46 404.59 470.82 404.04 472.88 403.86" stroke="#ff0000" stroke-width="2.9" stroke-dasharray="5.2 6.1 1.9 6.1"/>
<path d="M376.94 422.75 C379.29 422.49 386.53 421.77 391.05 421.23 C395.57 420.68 399.73 420.14 404.07 419.49 C408.41 418.84 413.12 418.30 417.09 417.32 C421.07 416.34 424.69 415.04 427.95 413.63 C431.20 412.22 433.74 410.84 436.63 408.85 C439.52 406.87 442.60 404.44 445.31 401.69 C448.03 398.94 450.56 395.79 452.91 392.36 C455.26 388.92 457.43 385.12 459.42 381.07 C461.41 377.02 463.22 372.57 464.85 368.05 C466.48 363.53 468.10 357.48 469.19 353.94 C470.27 350.39 470.82 348.58 471.36 346.78 C471.90 344.97 472.26 343.70 472.45 343.09" stroke="#990000" stroke-width="2.9" stroke-dasharray="5.1 4.66"/>
<path d="M388.44 394.09V414.72 M383.94 397.35H392.94 M383.94 411.89H392.94" stroke="#000" stroke-width="1.5"/>
<circle cx="388.44" cy="404.51" r="3.8" fill="#000"/>
<path d="M398.21 429.26V485.26 M393.71 429.26H402.71 M393.71 483.09H402.71" stroke="#000" stroke-width="1.5"/>
<circle cx="398.21" cy="453.14" r="3.8" fill="#000"/>
<path d="M410.58 416.89V435.34 M406.08 420.14H415.08 M406.08 431.43H415.08" stroke="#000" stroke-width="1.5"/>
<circle cx="410.58" cy="426.00" r="3.8" fill="#000"/>
<path d="M424.04 420.58V439.03 M419.54 423.40H428.54 M419.54 435.99H428.54" stroke="#000" stroke-width="1.5"/>
<circle cx="424.04" cy="429.48" r="3.8" fill="#000"/>
<path d="M444.66 418.41V466.81 M440.16 418.62H449.16 M440.16 466.38H449.16" stroke="#000" stroke-width="1.5"/>
<circle cx="444.66" cy="442.50" r="3.8" fill="#000"/>
</g>
<g clip-path="url(#b22)"><path d="M592.36 408.20 C594.06 408.13 599.63 407.95 602.56 407.77 C605.49 407.59 606.65 407.84 609.94 407.12 C613.23 406.39 618.17 404.77 622.31 403.43 C626.45 402.09 630.63 400.43 634.79 399.09 C638.95 397.75 643.13 396.74 647.27 395.40 C651.42 394.06 655.96 392.61 659.65 391.06 C663.34 389.50 666.41 387.71 669.41 386.06 C672.42 384.42 675.78 382.30 677.66 381.18 C679.54 380.06 680.19 379.64 680.70 379.33 L680.70 441.63 C680.23 441.38 680.05 441.23 677.88 440.11 C675.71 438.99 671.19 436.60 667.68 434.90 C664.17 433.20 660.80 431.65 656.82 429.91 C652.84 428.17 648.14 426.11 643.80 424.48 C639.46 422.86 635.12 421.41 630.78 420.14 C626.44 418.88 622.09 417.90 617.75 416.89 C613.41 415.87 608.96 414.68 604.73 414.06 C600.50 413.45 594.42 413.34 592.36 413.20 Z" fill="#aabac6"/></g>
<g clip-path="url(#c22)" fill="none">
<line x1="592.36" y1="410.73" x2="677.75" y2="410.73" stroke="#0a0aff" stroke-width="1.7"/>
<path d="M592.36 411.03 C594.42 410.74 600.50 409.94 604.73 409.29 C608.96 408.64 613.41 407.84 617.75 407.12 C622.09 406.39 626.44 405.67 630.78 404.95 C635.12 404.22 639.46 403.43 643.80 402.78 C648.14 402.13 652.84 401.51 656.82 401.04 C660.80 400.57 664.96 400.21 667.68 399.96 C670.39 399.70 672.20 399.59 673.10 399.52" stroke="#fff" stroke-width="1.3" opacity="0.3"/>
<path d="M592.36 411.03 C594.42 410.74 600.50 409.94 604.73 409.29 C608.96 408.64 613.41 407.84 617.75 407.12 C622.09 406.39 626.44 405.67 630.78 404.95 C635.12 404.22 639.46 403.43 643.80 402.78 C648.14 402.13 652.84 401.51 656.82 401.04 C660.80 400.57 664.96 400.21 667.68 399.96 C670.39 399.70 672.20 399.59 673.10 399.52" stroke="#ff0000" stroke-width="2.9" stroke-dasharray="5.2 6.1 1.9 6.1"/>
<path d="M592.36 422.31 C594.42 421.95 600.50 420.94 604.73 420.14 C608.96 419.35 613.77 418.55 617.75 417.54 C621.73 416.52 625.35 415.37 628.61 414.06 C631.86 412.76 634.39 411.60 637.29 409.72 C640.18 407.84 643.26 405.20 645.97 402.78 C648.68 400.35 651.22 398.07 653.57 395.18 C655.92 392.29 657.91 389.21 660.08 385.41 C662.25 381.61 664.60 376.73 666.59 372.39 C668.58 368.05 670.39 363.34 672.02 359.36 C673.65 355.39 675.27 351.23 676.36 348.51 C677.45 345.80 678.17 343.99 678.53 343.09" stroke="#990000" stroke-width="2.9" stroke-dasharray="5.1 4.66"/>
<path d="M612.98 424.48V440.76 M608.48 427.30H617.48 M608.48 437.94H617.48" stroke="#000" stroke-width="1.5"/>
<circle cx="612.98" cy="432.51" r="3.8" fill="#000"/>
<path d="M634.47 388.67V411.46 M629.97 393.01H638.97 M629.97 406.68H638.97" stroke="#000" stroke-width="1.5"/>
<circle cx="634.47" cy="400.17" r="3.8" fill="#000"/>
</g>
<g clip-path="url(#b30)"><path d="M195.82 535.44 C197.44 535.01 201.39 534.01 205.58 532.84 C209.78 531.66 215.86 529.78 220.99 528.39 C226.13 527.00 231.23 525.89 236.41 524.48 C241.58 523.07 247.87 521.33 252.03 519.92 C256.19 518.51 258.80 517.45 261.37 516.02 C263.94 514.59 265.89 512.58 267.45 511.35 C269.00 510.12 270.16 509.09 270.70 508.64 L270.70 567.68 C270.16 567.46 269.00 566.97 267.45 566.38 C265.89 565.78 263.94 565.13 261.37 564.10 C258.80 563.06 256.19 561.87 252.03 560.19 C247.87 558.51 241.58 555.94 236.41 554.00 C231.23 552.07 226.13 550.26 220.99 548.58 C215.86 546.89 209.78 545.07 205.58 543.91 C201.39 542.75 197.44 542.01 195.82 541.63 Z" fill="#aabac6"/></g>
<g clip-path="url(#c30)" fill="none">
<line x1="195.82" y1="539.07" x2="268.38" y2="539.07" stroke="#0a0aff" stroke-width="1.7"/>
<path d="M195.82 538.37 C197.80 538.01 203.59 537.04 207.75 536.20 C211.91 535.37 216.44 534.47 220.78 533.38 C225.12 532.30 229.46 530.85 233.80 529.69 C238.14 528.53 242.84 527.34 246.82 526.44 C250.80 525.53 254.78 524.81 257.68 524.27 C260.57 523.72 263.10 523.36 264.19 523.18" stroke="#fff" stroke-width="1.3" opacity="0.3"/>
<path d="M195.82 538.37 C197.80 538.01 203.59 537.04 207.75 536.20 C211.91 535.37 216.44 534.47 220.78 533.38 C225.12 532.30 229.46 530.85 233.80 529.69 C238.14 528.53 242.84 527.34 246.82 526.44 C250.80 525.53 254.78 524.81 257.68 524.27 C260.57 523.72 263.10 523.36 264.19 523.18" stroke="#ff0000" stroke-width="2.9" stroke-dasharray="5.2 6.1 1.9 6.1"/>
<path d="M195.82 548.58 C197.80 547.96 203.95 546.22 207.75 544.89 C211.55 543.55 214.99 542.35 218.61 540.54 C222.22 538.74 226.20 536.20 229.46 534.03 C232.72 531.86 235.43 529.87 238.14 527.52 C240.86 525.17 243.39 522.64 245.74 519.92 C248.09 517.21 250.26 514.50 252.25 511.24 C254.24 507.99 255.98 504.19 257.68 500.39 C259.38 496.59 260.93 492.43 262.45 488.45 C263.97 484.47 265.74 479.41 266.79 476.51 C267.84 473.62 268.42 471.99 268.75 471.09" stroke="#990000" stroke-width="2.9" stroke-dasharray="5.1 4.66"/>
<path d="M219.26 509.51V539.46 M214.76 514.06H223.76 M214.76 534.47H223.76" stroke="#000" stroke-width="1.5"/>
<circle cx="219.26" cy="524.27" r="3.8" fill="#000"/>
<path d="M239.66 516.23V549.23 M235.16 521.44H244.16 M235.16 544.45H244.16" stroke="#000" stroke-width="1.5"/>
<circle cx="239.66" cy="532.95" r="3.8" fill="#000"/>
</g>
<g clip-path="url(#b31)"><path d="M414.49 532.30 C416.41 531.92 421.51 531.18 425.99 530.02 C430.48 528.86 436.23 527.03 441.41 525.35 C446.58 523.67 452.87 521.35 457.03 519.92 C461.19 518.50 463.80 518.08 466.37 516.78 C468.94 515.47 470.89 513.29 472.45 512.11 C474.00 510.93 475.16 510.12 475.70 509.72 L475.70 566.16 C475.16 565.94 474.00 565.60 472.45 564.86 C470.89 564.11 468.94 562.87 466.37 561.71 C463.80 560.55 461.19 559.45 457.03 557.91 C452.87 556.37 446.58 554.17 441.41 552.48 C436.23 550.80 430.48 549.12 425.99 547.82 C421.51 546.51 416.41 545.19 414.49 544.67 Z" fill="#aabac6"/></g>
<g clip-path="url(#c31)" fill="none">
<line x1="414.49" y1="539.07" x2="473.07" y2="539.07" stroke="#0a0aff" stroke-width="1.7"/>
<path d="M414.49 534.68 C416.37 534.11 421.73 532.41 425.78 531.21 C429.83 530.02 434.46 528.86 438.80 527.52 C443.14 526.18 447.84 524.27 451.82 523.18 C455.80 522.09 459.17 521.19 462.68 521.01 C466.19 520.83 471.18 521.91 472.88 522.09" stroke="#fff" stroke-width="1.3" opacity="0.3"/>
<path d="M414.49 534.68 C416.37 534.11 421.73 532.41 425.78 531.21 C429.83 530.02 434.46 528.86 438.80 527.52 C443.14 526.18 447.84 524.27 451.82 523.18 C455.80 522.09 459.17 521.19 462.68 521.01 C466.19 520.83 471.18 521.91 472.88 522.09" stroke="#ff0000" stroke-width="2.9" stroke-dasharray="5.2 6.1 1.9 6.1"/>
<path d="M414.49 543.80 C416.01 543.15 420.64 541.34 423.61 539.89 C426.57 538.45 429.39 536.93 432.29 535.12 C435.18 533.31 438.08 531.39 440.97 529.04 C443.87 526.69 446.94 523.98 449.65 521.01 C452.37 518.04 455.08 514.68 457.25 511.24 C459.42 507.80 460.98 504.19 462.68 500.39 C464.38 496.59 466.01 492.25 467.45 488.45 C468.90 484.65 470.35 480.49 471.36 477.60 C472.37 474.70 473.17 472.17 473.53 471.09" stroke="#990000" stroke-width="2.9" stroke-dasharray="5.1 4.66"/>
<path d="M429.68 500.39V539.89 M425.18 508.42H434.18 M425.18 531.86H434.18" stroke="#000" stroke-width="1.5"/>
<circle cx="429.68" cy="519.92" r="3.8" fill="#000"/>
<path d="M449.65 507.99V559.00 M445.15 519.49H454.15 M445.15 547.49H454.15" stroke="#000" stroke-width="1.5"/>
<circle cx="449.65" cy="533.38" r="3.8" fill="#000"/>
</g>
<g clip-path="url(#b32)"><path d="M643.80 527.52 C645.97 526.80 652.84 524.63 656.82 523.18 C660.80 521.73 664.17 520.47 667.68 518.84 C671.19 517.21 675.71 514.57 677.88 513.41 C680.05 512.25 680.23 512.15 680.70 511.89 L680.70 564.20 C680.23 563.99 680.05 563.84 677.88 562.90 C675.71 561.96 671.19 559.94 667.68 558.56 C664.17 557.19 660.80 555.96 656.82 554.65 C652.84 553.35 645.97 551.40 643.80 550.75 Z" fill="#aabac6"/></g>
<g clip-path="url(#c32)" fill="none">
<line x1="643.80" y1="539.07" x2="677.75" y2="539.07" stroke="#0a0aff" stroke-width="1.7"/>
<path d="M643.80 526.00 C645.97 525.28 652.84 522.96 656.82 521.66 C660.80 520.36 664.96 518.91 667.68 518.19 C670.39 517.46 672.20 517.46 673.10 517.32" stroke="#fff" stroke-width="1.3" opacity="0.3"/>
<path d="M643.80 526.00 C645.97 525.28 652.84 522.96 656.82 521.66 C660.80 520.36 664.96 518.91 667.68 518.19 C670.39 517.46 672.20 517.46 673.10 517.32" stroke="#ff0000" stroke-width="2.9" stroke-dasharray="5.2 6.1 1.9 6.1"/>
<path d="M643.80 525.35 C645.25 523.90 649.95 519.56 652.48 516.67 C655.02 513.77 656.82 511.06 659.00 507.99 C661.17 504.91 663.52 501.65 665.51 498.22 C667.50 494.78 669.12 491.16 670.93 487.36 C672.74 483.57 675.17 478.14 676.36 475.43 C677.55 472.71 677.81 471.81 678.10 471.09" stroke="#990000" stroke-width="2.9" stroke-dasharray="5.1 4.66"/>
<path d="M664.42 461.32V576.36 M659.92 489.10H668.92 M659.92 550.75H668.92" stroke="#000" stroke-width="1.5"/>
<circle cx="664.42" cy="519.92" r="3.8" fill="#000"/>
</g>
<path d="M65.90 201.91H70.70M266.48 201.91H270.58M65.90 185.86H74.90M262.18 185.86H270.58M65.90 169.82H70.70M266.48 169.82H270.58M65.90 153.77H74.90M262.18 153.77H270.58M65.90 137.73H70.70M266.48 137.73H270.58M65.90 121.69H74.90M262.18 121.69H270.58M65.90 105.64H70.70M266.48 105.64H270.58M81.30 89.60V91.40M81.30 216.15V217.95M90.31 89.60V91.40M90.31 216.15V217.95M96.71 89.60V91.40M96.71 216.15V217.95M101.67 89.60V91.40M101.67 216.15V217.95M105.72 89.60V91.40M105.72 216.15V217.95M109.14 89.60V91.40M109.14 216.15V217.95M112.11 89.60V91.40M112.11 216.15V217.95M114.73 89.60V91.40M114.73 216.15V217.95M117.07 89.60V92.60M117.07 214.95V217.95M132.47 89.60V91.40M132.47 216.15V217.95M141.48 89.60V91.40M141.48 216.15V217.95M147.88 89.60V91.40M147.88 216.15V217.95M152.84 89.60V91.40M152.84 216.15V217.95M156.89 89.60V91.40M156.89 216.15V217.95M160.31 89.60V91.40M160.31 216.15V217.95M163.28 89.60V91.40M163.28 216.15V217.95M165.90 89.60V91.40M165.90 216.15V217.95M168.24 89.60V92.60M168.24 214.95V217.95M183.64 89.60V91.40M183.64 216.15V217.95M192.65 89.60V91.40M192.65 216.15V217.95M199.05 89.60V91.40M199.05 216.15V217.95M204.01 89.60V91.40M204.01 216.15V217.95M208.06 89.60V91.40M208.06 216.15V217.95M211.48 89.60V91.40M211.48 216.15V217.95M214.45 89.60V91.40M214.45 216.15V217.95M217.07 89.60V91.40M217.07 216.15V217.95M219.41 89.60V92.60M219.41 214.95V217.95M234.81 89.60V91.40M234.81 216.15V217.95M243.82 89.60V91.40M243.82 216.15V217.95M250.22 89.60V91.40M250.22 216.15V217.95M255.18 89.60V91.40M255.18 216.15V217.95M259.23 89.60V91.40M259.23 216.15V217.95M262.65 89.60V91.40M262.65 216.15V217.95M265.62 89.60V91.40M265.62 216.15V217.95M268.24 89.60V91.40M268.24 216.15V217.95M270.58 201.91H273.88M473.26 201.91H475.26M270.58 185.86H277.08M472.66 185.86H475.26M270.58 169.82H273.88M473.26 169.82H475.26M270.58 153.77H277.08M472.66 153.77H475.26M270.58 137.73H273.88M473.26 137.73H475.26M270.58 121.69H277.08M472.66 121.69H475.26M270.58 105.64H273.88M473.26 105.64H475.26M285.98 89.60V92.00M285.98 215.55V217.95M294.99 89.60V92.00M294.99 215.55V217.95M301.39 89.60V92.00M301.39 215.55V217.95M306.35 89.60V92.00M306.35 215.55V217.95M310.40 89.60V92.00M310.40 215.55V217.95M313.82 89.60V92.00M313.82 215.55V217.95M316.79 89.60V92.00M316.79 215.55V217.95M319.41 89.60V92.00M319.41 215.55V217.95M321.75 89.60V93.50M321.75 214.05V217.95M337.15 89.60V92.00M337.15 215.55V217.95M346.16 89.60V92.00M346.16 215.55V217.95M352.56 89.60V92.00M352.56 215.55V217.95M357.52 89.60V92.00M357.52 215.55V217.95M361.57 89.60V92.00M361.57 215.55V217.95M364.99 89.60V92.00M364.99 215.55V217.95M367.96 89.60V92.00M367.96 215.55V217.95M370.58 89.60V92.00M370.58 215.55V217.95M372.92 89.60V93.50M372.92 214.05V217.95M388.32 89.60V92.00M388.32 215.55V217.95M397.33 89.60V92.00M397.33 215.55V217.95M403.73 89.60V92.00M403.73 215.55V217.95M408.69 89.60V92.00M408.69 215.55V217.95M412.74 89.60V92.00M412.74 215.55V217.95M416.16 89.60V92.00M416.16 215.55V217.95M419.13 89.60V92.00M419.13 215.55V217.95M421.75 89.60V92.00M421.75 215.55V217.95M424.09 89.60V93.50M424.09 214.05V217.95M439.49 89.60V92.00M439.49 215.55V217.95M448.50 89.60V92.00M448.50 215.55V217.95M454.90 89.60V92.00M454.90 215.55V217.95M459.86 89.60V92.00M459.86 215.55V217.95M463.91 89.60V92.00M463.91 215.55V217.95M467.33 89.60V92.00M467.33 215.55V217.95M470.30 89.60V92.00M470.30 215.55V217.95M472.92 89.60V92.00M472.92 215.55V217.95M475.27 201.91H478.57M677.95 201.91H679.95M475.27 185.86H481.77M677.35 185.86H679.95M475.27 169.82H478.57M677.95 169.82H679.95M475.27 153.77H481.77M677.35 153.77H679.95M475.27 137.73H478.57M677.95 137.73H679.95M475.27 121.69H481.77M677.35 121.69H679.95M475.27 105.64H478.57M677.95 105.64H679.95M490.67 89.60V92.00M490.67 215.55V217.95M499.68 89.60V92.00M499.68 215.55V217.95M506.08 89.60V92.00M506.08 215.55V217.95M511.04 89.60V92.00M511.04 215.55V217.95M515.09 89.60V92.00M515.09 215.55V217.95M518.51 89.60V92.00M518.51 215.55V217.95M521.48 89.60V92.00M521.48 215.55V217.95M524.10 89.60V92.00M524.10 215.55V217.95M526.44 89.60V93.50M526.44 214.05V217.95M541.84 89.60V92.00M541.84 215.55V217.95M550.85 89.60V92.00M550.85 215.55V217.95M557.25 89.60V92.00M557.25 215.55V217.95M562.21 89.60V92.00M562.21 215.55V217.95M566.26 89.60V92.00M566.26 215.55V217.95M569.68 89.60V92.00M569.68 215.55V217.95M572.65 89.60V92.00M572.65 215.55V217.95M575.27 89.60V92.00M575.27 215.55V217.95M577.61 89.60V93.50M577.61 214.05V217.95M593.01 89.60V92.00M593.01 215.55V217.95M602.02 89.60V92.00M602.02 215.55V217.95M608.42 89.60V92.00M608.42 215.55V217.95M613.38 89.60V92.00M613.38 215.55V217.95M617.43 89.60V92.00M617.43 215.55V217.95M620.85 89.60V92.00M620.85 215.55V217.95M623.82 89.60V92.00M623.82 215.55V217.95M626.44 89.60V92.00M626.44 215.55V217.95M628.78 89.60V93.50M628.78 214.05V217.95M644.18 89.60V92.00M644.18 215.55V217.95M653.19 89.60V92.00M653.19 215.55V217.95M659.59 89.60V92.00M659.59 215.55V217.95M664.55 89.60V92.00M664.55 215.55V217.95M668.60 89.60V92.00M668.60 215.55V217.95M672.02 89.60V92.00M672.02 215.55V217.95M674.99 89.60V92.00M674.99 215.55V217.95M677.61 89.60V92.00M677.61 215.55V217.95M65.90 330.26H70.70M266.48 330.26H270.58M65.90 314.21H74.90M262.18 314.21H270.58M65.90 298.17H70.70M266.48 298.17H270.58M65.90 282.12H74.90M262.18 282.12H270.58M65.90 266.08H70.70M266.48 266.08H270.58M65.90 250.04H74.90M262.18 250.04H270.58M65.90 233.99H70.70M266.48 233.99H270.58M81.30 217.95V219.75M81.30 344.50V346.30M90.31 217.95V219.75M90.31 344.50V346.30M96.71 217.95V219.75M96.71 344.50V346.30M101.67 217.95V219.75M101.67 344.50V346.30M105.72 217.95V219.75M105.72 344.50V346.30M109.14 217.95V219.75M109.14 344.50V346.30M112.11 217.95V219.75M112.11 344.50V346.30M114.73 217.95V219.75M114.73 344.50V346.30M117.07 217.95V220.95M117.07 343.30V346.30M132.47 217.95V219.75M132.47 344.50V346.30M141.48 217.95V219.75M141.48 344.50V346.30M147.88 217.95V219.75M147.88 344.50V346.30M152.84 217.95V219.75M152.84 344.50V346.30M156.89 217.95V219.75M156.89 344.50V346.30M160.31 217.95V219.75M160.31 344.50V346.30M163.28 217.95V219.75M163.28 344.50V346.30M165.90 217.95V219.75M165.90 344.50V346.30M168.24 217.95V220.95M168.24 343.30V346.30M183.64 217.95V219.75M183.64 344.50V346.30M192.65 217.95V219.75M192.65 344.50V346.30M199.05 217.95V219.75M199.05 344.50V346.30M204.01 217.95V219.75M204.01 344.50V346.30M208.06 217.95V219.75M208.06 344.50V346.30M211.48 217.95V219.75M211.48 344.50V346.30M214.45 217.95V219.75M214.45 344.50V346.30M217.07 217.95V219.75M217.07 344.50V346.30M219.41 217.95V220.95M219.41 343.30V346.30M234.81 217.95V219.75M234.81 344.50V346.30M243.82 217.95V219.75M243.82 344.50V346.30M250.22 217.95V219.75M250.22 344.50V346.30M255.18 217.95V219.75M255.18 344.50V346.30M259.23 217.95V219.75M259.23 344.50V346.30M262.65 217.95V219.75M262.65 344.50V346.30M265.62 217.95V219.75M265.62 344.50V346.30M268.24 217.95V219.75M268.24 344.50V346.30M270.58 330.26H273.88M473.26 330.26H475.26M270.58 314.21H277.08M472.66 314.21H475.26M270.58 298.17H273.88M473.26 298.17H475.26M270.58 282.12H277.08M472.66 282.12H475.26M270.58 266.08H273.88M473.26 266.08H475.26M270.58 250.04H277.08M472.66 250.04H475.26M270.58 233.99H273.88M473.26 233.99H475.26M285.98 217.95V220.35M285.98 343.90V346.30M294.99 217.95V220.35M294.99 343.90V346.30M301.39 217.95V220.35M301.39 343.90V346.30M306.35 217.95V220.35M306.35 343.90V346.30M310.40 217.95V220.35M310.40 343.90V346.30M313.82 217.95V220.35M313.82 343.90V346.30M316.79 217.95V220.35M316.79 343.90V346.30M319.41 217.95V220.35M319.41 343.90V346.30M321.75 217.95V221.85M321.75 342.40V346.30M337.15 217.95V220.35M337.15 343.90V346.30M346.16 217.95V220.35M346.16 343.90V346.30M352.56 217.95V220.35M352.56 343.90V346.30M357.52 217.95V220.35M357.52 343.90V346.30M361.57 217.95V220.35M361.57 343.90V346.30M364.99 217.95V220.35M364.99 343.90V346.30M367.96 217.95V220.35M367.96 343.90V346.30M370.58 217.95V220.35M370.58 343.90V346.30M372.92 217.95V221.85M372.92 342.40V346.30M388.32 217.95V220.35M388.32 343.90V346.30M397.33 217.95V220.35M397.33 343.90V346.30M403.73 217.95V220.35M403.73 343.90V346.30M408.69 217.95V220.35M408.69 343.90V346.30M412.74 217.95V220.35M412.74 343.90V346.30M416.16 217.95V220.35M416.16 343.90V346.30M419.13 217.95V220.35M419.13 343.90V346.30M421.75 217.95V220.35M421.75 343.90V346.30M424.09 217.95V221.85M424.09 342.40V346.30M439.49 217.95V220.35M439.49 343.90V346.30M448.50 217.95V220.35M448.50 343.90V346.30M454.90 217.95V220.35M454.90 343.90V346.30M459.86 217.95V220.35M459.86 343.90V346.30M463.91 217.95V220.35M463.91 343.90V346.30M467.33 217.95V220.35M467.33 343.90V346.30M470.30 217.95V220.35M470.30 343.90V346.30M472.92 217.95V220.35M472.92 343.90V346.30M475.27 330.26H478.57M677.95 330.26H679.95M475.27 314.21H481.77M677.35 314.21H679.95M475.27 298.17H478.57M677.95 298.17H679.95M475.27 282.12H481.77M677.35 282.12H679.95M475.27 266.08H478.57M677.95 266.08H679.95M475.27 250.04H481.77M677.35 250.04H679.95M475.27 233.99H478.57M677.95 233.99H679.95M490.67 217.95V220.35M490.67 343.90V346.30M499.68 217.95V220.35M499.68 343.90V346.30M506.08 217.95V220.35M506.08 343.90V346.30M511.04 217.95V220.35M511.04 343.90V346.30M515.09 217.95V220.35M515.09 343.90V346.30M518.51 217.95V220.35M518.51 343.90V346.30M521.48 217.95V220.35M521.48 343.90V346.30M524.10 217.95V220.35M524.10 343.90V346.30M526.44 217.95V221.85M526.44 342.40V346.30M541.84 217.95V220.35M541.84 343.90V346.30M550.85 217.95V220.35M550.85 343.90V346.30M557.25 217.95V220.35M557.25 343.90V346.30M562.21 217.95V220.35M562.21 343.90V346.30M566.26 217.95V220.35M566.26 343.90V346.30M569.68 217.95V220.35M569.68 343.90V346.30M572.65 217.95V220.35M572.65 343.90V346.30M575.27 217.95V220.35M575.27 343.90V346.30M577.61 217.95V221.85M577.61 342.40V346.30M593.01 217.95V220.35M593.01 343.90V346.30M602.02 217.95V220.35M602.02 343.90V346.30M608.42 217.95V220.35M608.42 343.90V346.30M613.38 217.95V220.35M613.38 343.90V346.30M617.43 217.95V220.35M617.43 343.90V346.30M620.85 217.95V220.35M620.85 343.90V346.30M623.82 217.95V220.35M623.82 343.90V346.30M626.44 217.95V220.35M626.44 343.90V346.30M628.78 217.95V221.85M628.78 342.40V346.30M644.18 217.95V220.35M644.18 343.90V346.30M653.19 217.95V220.35M653.19 343.90V346.30M659.59 217.95V220.35M659.59 343.90V346.30M664.55 217.95V220.35M664.55 343.90V346.30M668.60 217.95V220.35M668.60 343.90V346.30M672.02 217.95V220.35M672.02 343.90V346.30M674.99 217.95V220.35M674.99 343.90V346.30M677.61 217.95V220.35M677.61 343.90V346.30M65.90 458.61H70.70M266.48 458.61H270.58M65.90 442.56H74.90M262.18 442.56H270.58M65.90 426.52H70.70M266.48 426.52H270.58M65.90 410.48H74.90M262.18 410.48H270.58M65.90 394.43H70.70M266.48 394.43H270.58M65.90 378.39H74.90M262.18 378.39H270.58M65.90 362.34H70.70M266.48 362.34H270.58M81.30 346.30V348.10M81.30 472.85V474.65M90.31 346.30V348.10M90.31 472.85V474.65M96.71 346.30V348.10M96.71 472.85V474.65M101.67 346.30V348.10M101.67 472.85V474.65M105.72 346.30V348.10M105.72 472.85V474.65M109.14 346.30V348.10M109.14 472.85V474.65M112.11 346.30V348.10M112.11 472.85V474.65M114.73 346.30V348.10M114.73 472.85V474.65M117.07 346.30V349.30M117.07 471.65V474.65M132.47 346.30V348.10M132.47 472.85V474.65M141.48 346.30V348.10M141.48 472.85V474.65M147.88 346.30V348.10M147.88 472.85V474.65M152.84 346.30V348.10M152.84 472.85V474.65M156.89 346.30V348.10M156.89 472.85V474.65M160.31 346.30V348.10M160.31 472.85V474.65M163.28 346.30V348.10M163.28 472.85V474.65M165.90 346.30V348.10M165.90 472.85V474.65M168.24 346.30V349.30M168.24 471.65V474.65M183.64 346.30V348.10M183.64 472.85V474.65M192.65 346.30V348.10M192.65 472.85V474.65M199.05 346.30V348.10M199.05 472.85V474.65M204.01 346.30V348.10M204.01 472.85V474.65M208.06 346.30V348.10M208.06 472.85V474.65M211.48 346.30V348.10M211.48 472.85V474.65M214.45 346.30V348.10M214.45 472.85V474.65M217.07 346.30V348.10M217.07 472.85V474.65M219.41 346.30V349.30M219.41 471.65V474.65M234.81 346.30V348.10M234.81 472.85V474.65M243.82 346.30V348.10M243.82 472.85V474.65M250.22 346.30V348.10M250.22 472.85V474.65M255.18 346.30V348.10M255.18 472.85V474.65M259.23 346.30V348.10M259.23 472.85V474.65M262.65 346.30V348.10M262.65 472.85V474.65M265.62 346.30V348.10M265.62 472.85V474.65M268.24 346.30V348.10M268.24 472.85V474.65M270.58 458.61H273.88M473.26 458.61H475.26M270.58 442.56H277.08M472.66 442.56H475.26M270.58 426.52H273.88M473.26 426.52H475.26M270.58 410.48H277.08M472.66 410.48H475.26M270.58 394.43H273.88M473.26 394.43H475.26M270.58 378.39H277.08M472.66 378.39H475.26M270.58 362.34H273.88M473.26 362.34H475.26M285.98 346.30V348.70M285.98 472.25V474.65M294.99 346.30V348.70M294.99 472.25V474.65M301.39 346.30V348.70M301.39 472.25V474.65M306.35 346.30V348.70M306.35 472.25V474.65M310.40 346.30V348.70M310.40 472.25V474.65M313.82 346.30V348.70M313.82 472.25V474.65M316.79 346.30V348.70M316.79 472.25V474.65M319.41 346.30V348.70M319.41 472.25V474.65M321.75 346.30V350.20M321.75 470.75V474.65M337.15 346.30V348.70M337.15 472.25V474.65M346.16 346.30V348.70M346.16 472.25V474.65M352.56 346.30V348.70M352.56 472.25V474.65M357.52 346.30V348.70M357.52 472.25V474.65M361.57 346.30V348.70M361.57 472.25V474.65M364.99 346.30V348.70M364.99 472.25V474.65M367.96 346.30V348.70M367.96 472.25V474.65M370.58 346.30V348.70M370.58 472.25V474.65M372.92 346.30V350.20M372.92 470.75V474.65M388.32 346.30V348.70M388.32 472.25V474.65M397.33 346.30V348.70M397.33 472.25V474.65M403.73 346.30V348.70M403.73 472.25V474.65M408.69 346.30V348.70M408.69 472.25V474.65M412.74 346.30V348.70M412.74 472.25V474.65M416.16 346.30V348.70M416.16 472.25V474.65M419.13 346.30V348.70M419.13 472.25V474.65M421.75 346.30V348.70M421.75 472.25V474.65M424.09 346.30V350.20M424.09 470.75V474.65M439.49 346.30V348.70M439.49 472.25V474.65M448.50 346.30V348.70M448.50 472.25V474.65M454.90 346.30V348.70M454.90 472.25V474.65M459.86 346.30V348.70M459.86 472.25V474.65M463.91 346.30V348.70M463.91 472.25V474.65M467.33 346.30V348.70M467.33 472.25V474.65M470.30 346.30V348.70M470.30 472.25V474.65M472.92 346.30V348.70M472.92 472.25V474.65M475.27 458.61H478.57M677.95 458.61H679.95M475.27 442.56H481.77M677.35 442.56H679.95M475.27 426.52H478.57M677.95 426.52H679.95M475.27 410.48H481.77M677.35 410.48H679.95M475.27 394.43H478.57M677.95 394.43H679.95M475.27 378.39H481.77M677.35 378.39H679.95M475.27 362.34H478.57M677.95 362.34H679.95M490.67 346.30V348.70M490.67 472.25V474.65M499.68 346.30V348.70M499.68 472.25V474.65M506.08 346.30V348.70M506.08 472.25V474.65M511.04 346.30V348.70M511.04 472.25V474.65M515.09 346.30V348.70M515.09 472.25V474.65M518.51 346.30V348.70M518.51 472.25V474.65M521.48 346.30V348.70M521.48 472.25V474.65M524.10 346.30V348.70M524.10 472.25V474.65M526.44 346.30V350.20M526.44 470.75V474.65M541.84 346.30V348.70M541.84 472.25V474.65M550.85 346.30V348.70M550.85 472.25V474.65M557.25 346.30V348.70M557.25 472.25V474.65M562.21 346.30V348.70M562.21 472.25V474.65M566.26 346.30V348.70M566.26 472.25V474.65M569.68 346.30V348.70M569.68 472.25V474.65M572.65 346.30V348.70M572.65 472.25V474.65M575.27 346.30V348.70M575.27 472.25V474.65M577.61 346.30V350.20M577.61 470.75V474.65M593.01 346.30V348.70M593.01 472.25V474.65M602.02 346.30V348.70M602.02 472.25V474.65M608.42 346.30V348.70M608.42 472.25V474.65M613.38 346.30V348.70M613.38 472.25V474.65M617.43 346.30V348.70M617.43 472.25V474.65M620.85 346.30V348.70M620.85 472.25V474.65M623.82 346.30V348.70M623.82 472.25V474.65M626.44 346.30V348.70M626.44 472.25V474.65M628.78 346.30V350.20M628.78 470.75V474.65M644.18 346.30V348.70M644.18 472.25V474.65M653.19 346.30V348.70M653.19 472.25V474.65M659.59 346.30V348.70M659.59 472.25V474.65M664.55 346.30V348.70M664.55 472.25V474.65M668.60 346.30V348.70M668.60 472.25V474.65M672.02 346.30V348.70M672.02 472.25V474.65M674.99 346.30V348.70M674.99 472.25V474.65M677.61 346.30V348.70M677.61 472.25V474.65M65.90 586.96H69.10M267.78 586.96H270.58M65.90 570.91H72.20M264.58 570.91H270.58M65.90 554.87H69.10M267.78 554.87H270.58M65.90 538.82H72.20M264.58 538.82H270.58M65.90 522.78H69.10M267.78 522.78H270.58M65.90 506.74H72.20M264.58 506.74H270.58M65.90 490.69H69.10M267.78 490.69H270.58M81.30 474.65V476.45M81.30 600.60V603.00M90.31 474.65V476.45M90.31 600.60V603.00M96.71 474.65V476.45M96.71 600.60V603.00M101.67 474.65V476.45M101.67 600.60V603.00M105.72 474.65V476.45M105.72 600.60V603.00M109.14 474.65V476.45M109.14 600.60V603.00M112.11 474.65V476.45M112.11 600.60V603.00M114.73 474.65V476.45M114.73 600.60V603.00M117.07 474.65V477.65M117.07 598.10V603.00M132.47 474.65V476.45M132.47 600.60V603.00M141.48 474.65V476.45M141.48 600.60V603.00M147.88 474.65V476.45M147.88 600.60V603.00M152.84 474.65V476.45M152.84 600.60V603.00M156.89 474.65V476.45M156.89 600.60V603.00M160.31 474.65V476.45M160.31 600.60V603.00M163.28 474.65V476.45M163.28 600.60V603.00M165.90 474.65V476.45M165.90 600.60V603.00M168.24 474.65V477.65M168.24 598.10V603.00M183.64 474.65V476.45M183.64 600.60V603.00M192.65 474.65V476.45M192.65 600.60V603.00M199.05 474.65V476.45M199.05 600.60V603.00M204.01 474.65V476.45M204.01 600.60V603.00M208.06 474.65V476.45M208.06 600.60V603.00M211.48 474.65V476.45M211.48 600.60V603.00M214.45 474.65V476.45M214.45 600.60V603.00M217.07 474.65V476.45M217.07 600.60V603.00M219.41 474.65V477.65M219.41 598.10V603.00M234.81 474.65V476.45M234.81 600.60V603.00M243.82 474.65V476.45M243.82 600.60V603.00M250.22 474.65V476.45M250.22 600.60V603.00M255.18 474.65V476.45M255.18 600.60V603.00M259.23 474.65V476.45M259.23 600.60V603.00M262.65 474.65V476.45M262.65 600.60V603.00M265.62 474.65V476.45M265.62 600.60V603.00M268.24 474.65V476.45M268.24 600.60V603.00M270.58 586.96H272.98M473.66 586.96H475.26M270.58 570.91H275.28M473.06 570.91H475.26M270.58 554.87H272.98M473.66 554.87H475.26M270.58 538.82H275.28M473.06 538.82H475.26M270.58 522.78H272.98M473.66 522.78H475.26M270.58 506.74H275.28M473.06 506.74H475.26M270.58 490.69H272.98M473.66 490.69H475.26M285.98 474.65V477.05M285.98 600.60V603.00M294.99 474.65V477.05M294.99 600.60V603.00M301.39 474.65V477.05M301.39 600.60V603.00M306.35 474.65V477.05M306.35 600.60V603.00M310.40 474.65V477.05M310.40 600.60V603.00M313.82 474.65V477.05M313.82 600.60V603.00M316.79 474.65V477.05M316.79 600.60V603.00M319.41 474.65V477.05M319.41 600.60V603.00M321.75 474.65V478.55M321.75 598.10V603.00M337.15 474.65V477.05M337.15 600.60V603.00M346.16 474.65V477.05M346.16 600.60V603.00M352.56 474.65V477.05M352.56 600.60V603.00M357.52 474.65V477.05M357.52 600.60V603.00M361.57 474.65V477.05M361.57 600.60V603.00M364.99 474.65V477.05M364.99 600.60V603.00M367.96 474.65V477.05M367.96 600.60V603.00M370.58 474.65V477.05M370.58 600.60V603.00M372.92 474.65V478.55M372.92 598.10V603.00M388.32 474.65V477.05M388.32 600.60V603.00M397.33 474.65V477.05M397.33 600.60V603.00M403.73 474.65V477.05M403.73 600.60V603.00M408.69 474.65V477.05M408.69 600.60V603.00M412.74 474.65V477.05M412.74 600.60V603.00M416.16 474.65V477.05M416.16 600.60V603.00M419.13 474.65V477.05M419.13 600.60V603.00M421.75 474.65V477.05M421.75 600.60V603.00M424.09 474.65V478.55M424.09 598.10V603.00M439.49 474.65V477.05M439.49 600.60V603.00M448.50 474.65V477.05M448.50 600.60V603.00M454.90 474.65V477.05M454.90 600.60V603.00M459.86 474.65V477.05M459.86 600.60V603.00M463.91 474.65V477.05M463.91 600.60V603.00M467.33 474.65V477.05M467.33 600.60V603.00M470.30 474.65V477.05M470.30 600.60V603.00M472.92 474.65V477.05M472.92 600.60V603.00M475.27 586.96H477.67M678.35 586.96H679.95M475.27 570.91H479.97M677.75 570.91H679.95M475.27 554.87H477.67M678.35 554.87H679.95M475.27 538.82H479.97M677.75 538.82H679.95M475.27 522.78H477.67M678.35 522.78H679.95M475.27 506.74H479.97M677.75 506.74H679.95M475.27 490.69H477.67M678.35 490.69H679.95M490.67 474.65V477.05M490.67 600.60V603.00M499.68 474.65V477.05M499.68 600.60V603.00M506.08 474.65V477.05M506.08 600.60V603.00M511.04 474.65V477.05M511.04 600.60V603.00M515.09 474.65V477.05M515.09 600.60V603.00M518.51 474.65V477.05M518.51 600.60V603.00M521.48 474.65V477.05M521.48 600.60V603.00M524.10 474.65V477.05M524.10 600.60V603.00M526.44 474.65V478.55M526.44 598.10V603.00M541.84 474.65V477.05M541.84 600.60V603.00M550.85 474.65V477.05M550.85 600.60V603.00M557.25 474.65V477.05M557.25 600.60V603.00M562.21 474.65V477.05M562.21 600.60V603.00M566.26 474.65V477.05M566.26 600.60V603.00M569.68 474.65V477.05M569.68 600.60V603.00M572.65 474.65V477.05M572.65 600.60V603.00M575.27 474.65V477.05M575.27 600.60V603.00M577.61 474.65V478.55M577.61 598.10V603.00M593.01 474.65V477.05M593.01 600.60V603.00M602.02 474.65V477.05M602.02 600.60V603.00M608.42 474.65V477.05M608.42 600.60V603.00M613.38 474.65V477.05M613.38 600.60V603.00M617.43 474.65V477.05M617.43 600.60V603.00M620.85 474.65V477.05M620.85 600.60V603.00M623.82 474.65V477.05M623.82 600.60V603.00M626.44 474.65V477.05M626.44 600.60V603.00M628.78 474.65V478.55M628.78 598.10V603.00M644.18 474.65V477.05M644.18 600.60V603.00M653.19 474.65V477.05M653.19 600.60V603.00M659.59 474.65V477.05M659.59 600.60V603.00M664.55 474.65V477.05M664.55 600.60V603.00M668.60 474.65V477.05M668.60 600.60V603.00M672.02 474.65V477.05M672.02 600.60V603.00M674.99 474.65V477.05M674.99 600.60V603.00M677.61 474.65V477.05M677.61 600.60V603.00" stroke="#000" stroke-width="1.3" fill="none"/>
<path d="M65.90 88.90V603.70M270.58 88.90V603.70M475.27 88.90V603.70M679.95 88.90V603.70M65.20 89.60H680.65M65.20 217.95H680.65M65.20 346.30H680.65M65.20 474.65H680.65M65.20 603.00H680.65" stroke="#000" stroke-width="1.4" fill="none"/>
<text x="662.2" y="635.0" font-size="17.8">x</text>
<text x="672.3" y="639.9" font-size="11.6">Bj</text>
<text x="75.80" y="206.90" font-size="14.00" style="white-space:pre">Q</text><text x="86.69" y="200.40" font-size="9.00" style="white-space:pre">2</text><text x="91.71" y="206.90" font-size="14.00" style="white-space:pre"> = 2.5 GeV</text><text x="158.43" y="200.40" font-size="9.00" style="white-space:pre">2</text>
<text x="279.58" y="206.90" font-size="14.00" style="white-space:pre">Q</text><text x="290.47" y="200.40" font-size="9.00" style="white-space:pre">2</text><text x="295.49" y="206.90" font-size="14.00" style="white-space:pre"> = 5 GeV</text><text x="350.54" y="200.40" font-size="9.00" style="white-space:pre">2</text>
<text x="484.27" y="206.90" font-size="14.00" style="white-space:pre">Q</text><text x="495.16" y="200.40" font-size="9.00" style="white-space:pre">2</text><text x="500.18" y="206.90" font-size="14.00" style="white-space:pre"> = 7 GeV</text><text x="555.23" y="200.40" font-size="9.00" style="white-space:pre">2</text>
<text x="75.50" y="238.70" font-size="14.00" style="white-space:pre">Q</text><text x="86.39" y="232.20" font-size="9.00" style="white-space:pre">2</text><text x="91.41" y="238.70" font-size="14.00" style="white-space:pre"> = </text><path transform="translate(107.38 238.70) scale(0.00684 -0.00684)" d="M806 0H525V1059Q371 915 162 846V1101Q272 1137 401 1237.5Q530 1338 578 1466H806Z"/><text x="115.16" y="238.70" font-size="14.00" style="white-space:pre">2 GeV</text><text x="154.26" y="232.20" font-size="9.00" style="white-space:pre">2</text>
<text x="279.48" y="238.70" font-size="14.00" style="white-space:pre">Q</text><text x="290.37" y="232.20" font-size="9.00" style="white-space:pre">2</text><text x="295.39" y="238.70" font-size="14.00" style="white-space:pre"> = </text><path transform="translate(311.35 238.70) scale(0.00684 -0.00684)" d="M806 0H525V1059Q371 915 162 846V1101Q272 1137 401 1237.5Q530 1338 578 1466H806Z"/><text x="319.14" y="238.70" font-size="14.00" style="white-space:pre">8 GeV</text><text x="358.24" y="232.20" font-size="9.00" style="white-space:pre">2</text>
<text x="484.17" y="238.70" font-size="14.00" style="white-space:pre">Q</text><text x="495.06" y="232.20" font-size="9.00" style="white-space:pre">2</text><text x="500.08" y="238.70" font-size="14.00" style="white-space:pre"> = 32 GeV</text><text x="562.91" y="232.20" font-size="9.00" style="white-space:pre">2</text>
<text x="75.10" y="367.00" font-size="14.00" style="white-space:pre">Q</text><text x="85.99" y="360.50" font-size="9.00" style="white-space:pre">2</text><text x="91.01" y="367.00" font-size="14.00" style="white-space:pre"> = 60 GeV</text><text x="153.84" y="360.50" font-size="9.00" style="white-space:pre">2</text>
<text x="279.08" y="367.00" font-size="14.00" style="white-space:pre">Q</text><text x="289.97" y="360.50" font-size="9.00" style="white-space:pre">2</text><text x="294.99" y="367.00" font-size="14.00" style="white-space:pre"> = </text><path transform="translate(310.95 367.00) scale(0.00684 -0.00684)" d="M806 0H525V1059Q371 915 162 846V1101Q272 1137 401 1237.5Q530 1338 578 1466H806Z"/><text x="318.74" y="367.00" font-size="14.00" style="white-space:pre">20 GeV</text><text x="365.63" y="360.50" font-size="9.00" style="white-space:pre">2</text>
<text x="483.77" y="367.00" font-size="14.00" style="white-space:pre">Q</text><text x="494.66" y="360.50" font-size="9.00" style="white-space:pre">2</text><text x="499.68" y="367.00" font-size="14.00" style="white-space:pre"> = 200 GeV</text><text x="570.29" y="360.50" font-size="9.00" style="white-space:pre">2</text>
<text x="75.10" y="498.60" font-size="14.00" style="white-space:pre">Q</text><text x="85.99" y="492.10" font-size="9.00" style="white-space:pre">2</text><text x="91.01" y="498.60" font-size="14.00" style="white-space:pre"> = 350 GeV</text><text x="161.63" y="492.10" font-size="9.00" style="white-space:pre">2</text>
<text x="279.58" y="498.60" font-size="14.00" style="white-space:pre">Q</text><text x="290.47" y="492.10" font-size="9.00" style="white-space:pre">2</text><text x="295.49" y="498.60" font-size="14.00" style="white-space:pre"> = 650 GeV</text><text x="366.10" y="492.10" font-size="9.00" style="white-space:pre">2</text>
<text x="484.27" y="498.60" font-size="14.00" style="white-space:pre">Q</text><text x="495.16" y="492.10" font-size="9.00" style="white-space:pre">2</text><text x="500.18" y="498.60" font-size="14.00" style="white-space:pre"> = 2000 GeV</text><text x="578.59" y="492.10" font-size="9.00" style="white-space:pre">2</text>
<path transform="translate(39.33 126.89) scale(0.00715 -0.00715)" d="M806 0H525V1059Q371 915 162 846V1101Q272 1137 401 1237.5Q530 1338 578 1466H806Z"/><text x="47.48" y="126.89" font-size="14.65" style="white-space:pre">.2</text>
<path transform="translate(51.55 158.97) scale(0.00715 -0.00715)" d="M806 0H525V1059Q371 915 162 846V1101Q272 1137 401 1237.5Q530 1338 578 1466H806Z"/>
<text x="39.34" y="191.06" font-size="14.65" style="white-space:pre">0.8</text>
<path transform="translate(39.33 255.24) scale(0.00715 -0.00715)" d="M806 0H525V1059Q371 915 162 846V1101Q272 1137 401 1237.5Q530 1338 578 1466H806Z"/><text x="47.48" y="255.24" font-size="14.65" style="white-space:pre">.2</text>
<path transform="translate(51.55 287.32) scale(0.00715 -0.00715)" d="M806 0H525V1059Q371 915 162 846V1101Q272 1137 401 1237.5Q530 1338 578 1466H806Z"/>
<text x="39.34" y="319.41" font-size="14.65" style="white-space:pre">0.8</text>
<path transform="translate(39.33 383.59) scale(0.00715 -0.00715)" d="M806 0H525V1059Q371 915 162 846V1101Q272 1137 401 1237.5Q530 1338 578 1466H806Z"/><text x="47.48" y="383.59" font-size="14.65" style="white-space:pre">.2</text>
<path transform="translate(51.55 415.68) scale(0.00715 -0.00715)" d="M806 0H525V1059Q371 915 162 846V1101Q272 1137 401 1237.5Q530 1338 578 1466H806Z"/>
<text x="39.34" y="447.76" font-size="14.65" style="white-space:pre">0.8</text>
<path transform="translate(39.33 511.94) scale(0.00715 -0.00715)" d="M806 0H525V1059Q371 915 162 846V1101Q272 1137 401 1237.5Q530 1338 578 1466H806Z"/><text x="47.48" y="511.94" font-size="14.65" style="white-space:pre">.2</text>
<path transform="translate(51.55 544.02) scale(0.00715 -0.00715)" d="M806 0H525V1059Q371 915 162 846V1101Q272 1137 401 1237.5Q530 1338 578 1466H806Z"/>
<text x="39.34" y="576.11" font-size="14.65" style="white-space:pre">0.8</text>
<path transform="translate(102.27 627.60) scale(0.00715 -0.00715)" d="M806 0H525V1059Q371 915 162 846V1101Q272 1137 401 1237.5Q530 1338 578 1466H806Z"/><text x="110.42" y="627.60" font-size="14.65" style="white-space:pre">0</text><text x="118.77" y="620.80" font-size="9.50" style="white-space:pre">-4</text>
<path transform="translate(153.44 627.60) scale(0.00715 -0.00715)" d="M806 0H525V1059Q371 915 162 846V1101Q272 1137 401 1237.5Q530 1338 578 1466H806Z"/><text x="161.59" y="627.60" font-size="14.65" style="white-space:pre">0</text><text x="169.94" y="620.80" font-size="9.50" style="white-space:pre">-3</text>
<path transform="translate(204.61 627.60) scale(0.00715 -0.00715)" d="M806 0H525V1059Q371 915 162 846V1101Q272 1137 401 1237.5Q530 1338 578 1466H806Z"/><text x="212.76" y="627.60" font-size="14.65" style="white-space:pre">0</text><text x="221.11" y="620.80" font-size="9.50" style="white-space:pre">-2</text>
<path transform="translate(306.95 627.60) scale(0.00715 -0.00715)" d="M806 0H525V1059Q371 915 162 846V1101Q272 1137 401 1237.5Q530 1338 578 1466H806Z"/><text x="315.10" y="627.60" font-size="14.65" style="white-space:pre">0</text><text x="323.45" y="620.80" font-size="9.50" style="white-space:pre">-4</text>
<path transform="translate(358.12 627.60) scale(0.00715 -0.00715)" d="M806 0H525V1059Q371 915 162 846V1101Q272 1137 401 1237.5Q530 1338 578 1466H806Z"/><text x="366.27" y="627.60" font-size="14.65" style="white-space:pre">0</text><text x="374.62" y="620.80" font-size="9.50" style="white-space:pre">-3</text>
<path transform="translate(409.29 627.60) scale(0.00715 -0.00715)" d="M806 0H525V1059Q371 915 162 846V1101Q272 1137 401 1237.5Q530 1338 578 1466H806Z"/><text x="417.44" y="627.60" font-size="14.65" style="white-space:pre">0</text><text x="425.79" y="620.80" font-size="9.50" style="white-space:pre">-2</text>
<path transform="translate(511.64 627.60) scale(0.00715 -0.00715)" d="M806 0H525V1059Q371 915 162 846V1101Q272 1137 401 1237.5Q530 1338 578 1466H806Z"/><text x="519.79" y="627.60" font-size="14.65" style="white-space:pre">0</text><text x="528.14" y="620.80" font-size="9.50" style="white-space:pre">-4</text>
<path transform="translate(562.81 627.60) scale(0.00715 -0.00715)" d="M806 0H525V1059Q371 915 162 846V1101Q272 1137 401 1237.5Q530 1338 578 1466H806Z"/><text x="570.96" y="627.60" font-size="14.65" style="white-space:pre">0</text><text x="579.31" y="620.80" font-size="9.50" style="white-space:pre">-3</text>
<path transform="translate(613.98 627.60) scale(0.00715 -0.00715)" d="M806 0H525V1059Q371 915 162 846V1101Q272 1137 401 1237.5Q530 1338 578 1466H806Z"/><text x="622.13" y="627.60" font-size="14.65" style="white-space:pre">0</text><text x="630.48" y="620.80" font-size="9.50" style="white-space:pre">-2</text>
<text x="553.60" y="76.50" font-size="19.65" style="white-space:pre">H</text><path transform="translate(567.79 76.50) scale(0.00959 -0.00959)" d="M806 0H525V1059Q371 915 162 846V1101Q272 1137 401 1237.5Q530 1338 578 1466H806Z"/><text x="578.72" y="76.50" font-size="19.65" style="white-space:pre"> and ZEUS</text>
<circle cx="97.6" cy="8.7" r="3.7"/>
<text x="128.4" y="13.7" font-size="14.65">HERA</text>
<rect x="75" y="22.1" width="44.1" height="14.8" fill="#aabac6"/>
<line x1="75" x2="119.1" y1="29.5" y2="29.5" stroke="#0a0aff" stroke-width="1.5"/>
<text x="128.4" y="34.2" font-size="14.65">NLO HERAPDF2.0 FF3A</text>
<line x1="75" x2="119.1" y1="51" y2="51" stroke="#ff0000" stroke-width="2.7" stroke-dasharray="5.3 6.1 1.9 6.05"/>
<text x="128.4" y="54.7" font-size="14.65">NLO HERAPDF2.0 RTOPT</text>
<line x1="75" x2="119.1" y1="72.1" y2="72.1" stroke="#990000" stroke-width="2.7" stroke-dasharray="5.2 4.52"/>
<text x="128.4" y="75.1" font-size="14.65">appr. NNLO HERAPDF2.0 RTOPT</text>
<g transform="translate(17.1 183.7) rotate(-90)">
<text transform="translate(-0.60 -0.7) scale(1 0.94)" x="0" y="0" font-size="17.6" font-weight="normal" stroke="#000" stroke-width="0.15">σ</text>
<text x="11.9" y="5.9" font-size="12.0">red</text>
<text x="12.0" y="-6.2" font-size="12.0" letter-spacing="-0.4">cc</text>
<rect x="18.6" y="-16.7" width="5.6" height="1.3"/>
<text x="35.4" y="0" font-size="19">/</text>
<text transform="translate(40.20 -0.7) scale(1 0.94)" x="0" y="0" font-size="17.6" font-weight="normal" stroke="#000" stroke-width="0.15">σ</text>
<text x="52.0" y="5.9" font-size="12.0">red</text>
<text x="52.5" y="-6.2" font-size="12.0"><tspan letter-spacing="-0.4">cc</tspan> nom</text>
<rect x="59.0" y="-16.7" width="5.6" height="1.3"/>
</g>
</g>
</svg>
</body></html>
